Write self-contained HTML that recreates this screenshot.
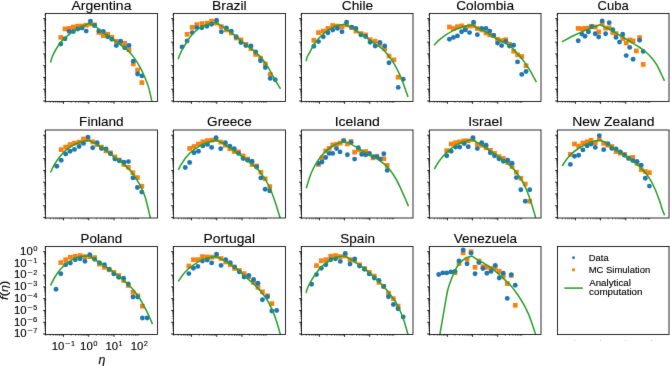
<!DOCTYPE html>
<html><head><meta charset="utf-8"><style>
html,body{margin:0;padding:0;background:#fff;width:670px;height:366px;overflow:hidden}
svg{display:block} text{stroke:#000;stroke-width:0.12px} text.t{stroke-width:0.1px}
</style></head><body>
<svg width="670" height="366" viewBox="0 0 670 366">
<filter id="bl" filterUnits="userSpaceOnUse" x="0" y="0" width="670" height="366" color-interpolation-filters="sRGB"><feConvolveMatrix order="3" kernelMatrix="0.00524 0.06192 0.00524 0.06192 0.73137 0.06192 0.00524 0.06192 0.00524" edgeMode="duplicate" preserveAlpha="false"/></filter>
<rect width="670" height="366" fill="#fff"/>
<g filter="url(#bl)">
<rect width="670" height="366" fill="#fff"/>
<defs>
<clipPath id="c00"><rect x="45.50" y="13.50" width="112.0" height="88.0"/></clipPath>
<clipPath id="c10"><rect x="173.50" y="13.50" width="112.0" height="88.0"/></clipPath>
<clipPath id="c20"><rect x="301.50" y="13.50" width="111.5" height="88.0"/></clipPath>
<clipPath id="c30"><rect x="429.50" y="13.50" width="111.5" height="88.0"/></clipPath>
<clipPath id="c40"><rect x="557.50" y="13.50" width="111.5" height="88.0"/></clipPath>
<clipPath id="c01"><rect x="45.50" y="130.00" width="112.0" height="88.0"/></clipPath>
<clipPath id="c11"><rect x="173.50" y="130.00" width="112.0" height="88.0"/></clipPath>
<clipPath id="c21"><rect x="301.50" y="130.00" width="111.5" height="88.0"/></clipPath>
<clipPath id="c31"><rect x="429.50" y="130.00" width="111.5" height="88.0"/></clipPath>
<clipPath id="c41"><rect x="557.50" y="130.00" width="111.5" height="88.0"/></clipPath>
<clipPath id="c02"><rect x="45.50" y="246.50" width="112.0" height="88.0"/></clipPath>
<clipPath id="c12"><rect x="173.50" y="246.50" width="112.0" height="88.0"/></clipPath>
<clipPath id="c22"><rect x="301.50" y="246.50" width="111.5" height="88.0"/></clipPath>
<clipPath id="c32"><rect x="429.50" y="246.50" width="111.5" height="88.0"/></clipPath>
<clipPath id="c42"><rect x="557.50" y="246.50" width="111.5" height="88.0"/></clipPath>
</defs>
<g clip-path="url(#c00)"><rect x="58.45" y="35.05" width="4.7" height="4.7" fill="#ff7f0e"/><rect x="62.65" y="26.55" width="4.7" height="4.7" fill="#ff7f0e"/><rect x="66.75" y="26.05" width="4.7" height="4.7" fill="#ff7f0e"/><rect x="71.05" y="24.65" width="4.7" height="4.7" fill="#ff7f0e"/><rect x="75.45" y="23.75" width="4.7" height="4.7" fill="#ff7f0e"/><rect x="79.65" y="23.65" width="4.7" height="4.7" fill="#ff7f0e"/><rect x="83.85" y="22.85" width="4.7" height="4.7" fill="#ff7f0e"/><rect x="88.05" y="21.65" width="4.7" height="4.7" fill="#ff7f0e"/><rect x="92.25" y="22.55" width="4.7" height="4.7" fill="#ff7f0e"/><rect x="96.55" y="30.15" width="4.7" height="4.7" fill="#ff7f0e"/><rect x="100.95" y="33.25" width="4.7" height="4.7" fill="#ff7f0e"/><rect x="105.35" y="31.85" width="4.7" height="4.7" fill="#ff7f0e"/><rect x="109.55" y="35.05" width="4.7" height="4.7" fill="#ff7f0e"/><rect x="113.95" y="38.95" width="4.7" height="4.7" fill="#ff7f0e"/><rect x="118.25" y="40.15" width="4.7" height="4.7" fill="#ff7f0e"/><rect x="122.35" y="40.95" width="4.7" height="4.7" fill="#ff7f0e"/><rect x="126.65" y="47.35" width="4.7" height="4.7" fill="#ff7f0e"/><rect x="130.95" y="61.65" width="4.7" height="4.7" fill="#ff7f0e"/><rect x="135.25" y="67.65" width="4.7" height="4.7" fill="#ff7f0e"/><rect x="139.55" y="80.25" width="4.7" height="4.7" fill="#ff7f0e"/><circle cx="60.80" cy="43.95" r="2.45" fill="#1f77b4"/><circle cx="65.00" cy="38.70" r="2.45" fill="#1f77b4"/><circle cx="69.10" cy="31.40" r="2.45" fill="#1f77b4"/><circle cx="73.40" cy="31.50" r="2.45" fill="#1f77b4"/><circle cx="77.80" cy="29.00" r="2.45" fill="#1f77b4"/><circle cx="82.00" cy="28.00" r="2.45" fill="#1f77b4"/><circle cx="86.20" cy="31.10" r="2.45" fill="#1f77b4"/><circle cx="90.40" cy="21.10" r="2.45" fill="#1f77b4"/><circle cx="94.60" cy="25.50" r="2.45" fill="#1f77b4"/><circle cx="98.90" cy="30.90" r="2.45" fill="#1f77b4"/><circle cx="103.30" cy="31.50" r="2.45" fill="#1f77b4"/><circle cx="107.70" cy="36.80" r="2.45" fill="#1f77b4"/><circle cx="111.90" cy="39.30" r="2.45" fill="#1f77b4"/><circle cx="116.30" cy="45.60" r="2.45" fill="#1f77b4"/><circle cx="120.60" cy="41.20" r="2.45" fill="#1f77b4"/><circle cx="124.70" cy="47.70" r="2.45" fill="#1f77b4"/><circle cx="129.00" cy="45.40" r="2.45" fill="#1f77b4"/><circle cx="133.30" cy="61.20" r="2.45" fill="#1f77b4"/><circle cx="137.60" cy="74.00" r="2.45" fill="#1f77b4"/><circle cx="141.90" cy="75.90" r="2.45" fill="#1f77b4"/><path d="M50.50 62.50C50.82 61.47 51.55 58.38 52.40 56.30C53.25 54.22 54.23 52.30 55.60 50.00C56.97 47.70 59.03 44.50 60.60 42.50C62.17 40.50 63.53 39.37 65.00 38.00C66.47 36.63 67.62 35.65 69.40 34.30C71.18 32.95 73.60 31.17 75.70 29.90C77.80 28.63 79.90 27.75 82.00 26.70C84.10 25.65 87.17 24.20 88.30 23.60C89.43 23.00 88.72 23.18 88.80 23.10M88.80 23.10C89.77 23.55 92.90 24.75 94.60 25.80C96.30 26.85 96.72 27.63 99.00 29.40C101.28 31.17 105.20 34.18 108.30 36.40C111.40 38.62 114.50 40.48 117.60 42.70C120.70 44.92 124.18 47.25 126.90 49.70C129.62 52.15 131.77 54.57 133.90 57.40C136.03 60.23 137.97 63.60 139.70 66.70C141.43 69.80 142.87 72.72 144.30 76.00C145.73 79.28 147.02 82.13 148.30 86.40C149.58 90.67 151.30 98.75 152.00 101.60C152.70 104.45 152.42 103.18 152.50 103.50" fill="none" stroke="#2ca02c" stroke-width="1.55" stroke-linejoin="round"/></g>
<rect x="45.50" y="13.50" width="112.0" height="88.0" fill="none" stroke="#000" stroke-width="0.83"/>
<path d="M43.10 100.91H45.50M43.10 89.15H45.50M43.10 77.40H45.50M43.10 65.64H45.50M43.10 53.88H45.50M43.10 42.12H45.50M43.10 30.36H45.50M63.46 101.50V103.90M43.10 18.60H45.50M88.76 101.50V103.90M114.06 101.50V103.90" stroke="#000" stroke-width="0.83" fill="none"/>
<path d="M44.20 101.45H45.50M44.20 97.37H45.50M44.20 95.30H45.50M44.20 93.83H45.50M44.20 92.69H45.50M44.20 91.76H45.50M44.20 90.98H45.50M44.20 90.29H45.50M44.20 89.69H45.50M44.20 85.61H45.50M44.20 83.54H45.50M44.20 82.07H45.50M44.20 80.93H45.50M44.20 80.00H45.50M44.20 79.22H45.50M44.20 78.53H45.50M44.20 77.93H45.50M44.20 73.86H45.50M44.20 71.79H45.50M44.20 70.32H45.50M44.20 69.18H45.50M44.20 68.25H45.50M44.20 67.46H45.50M44.20 66.78H45.50M44.20 66.17H45.50M44.20 62.10H45.50M44.20 60.03H45.50M44.20 58.56H45.50M44.20 57.42H45.50M44.20 56.49H45.50M44.20 55.70H45.50M44.20 55.02H45.50M44.20 54.42H45.50M44.20 50.34H45.50M44.20 48.27H45.50M44.20 46.80H45.50M44.20 45.66H45.50M44.20 44.73H45.50M44.20 43.94H45.50M44.20 43.26H45.50M44.20 42.66H45.50M44.20 38.58H45.50M45.78 101.50V102.80M44.20 36.51H45.50M50.23 101.50V102.80M44.20 35.04H45.50M53.39 101.50V102.80M44.20 33.90H45.50M55.85 101.50V102.80M44.20 32.97H45.50M57.85 101.50V102.80M44.20 32.18H45.50M59.54 101.50V102.80M44.20 31.50H45.50M61.01 101.50V102.80M44.20 30.90H45.50M62.30 101.50V102.80M44.20 26.82H45.50M71.08 101.50V102.80M44.20 24.75H45.50M75.53 101.50V102.80M44.20 23.28H45.50M78.69 101.50V102.80M44.20 22.14H45.50M81.15 101.50V102.80M44.20 21.21H45.50M83.15 101.50V102.80M44.20 20.42H45.50M84.84 101.50V102.80M44.20 19.74H45.50M86.31 101.50V102.80M44.20 19.14H45.50M87.60 101.50V102.80M44.20 15.06H45.50M96.38 101.50V102.80M100.83 101.50V102.80M103.99 101.50V102.80M106.45 101.50V102.80M108.45 101.50V102.80M110.14 101.50V102.80M111.61 101.50V102.80M112.90 101.50V102.80M121.68 101.50V102.80M126.13 101.50V102.80M129.29 101.50V102.80M131.74 101.50V102.80M133.75 101.50V102.80M135.44 101.50V102.80M136.91 101.50V102.80M138.20 101.50V102.80" stroke="#000" stroke-width="0.55" fill="none"/>
<text class="t" x="71.46" y="9.80" font-size="13.2" textLength="60.01" lengthAdjust="spacingAndGlyphs" font-family="Liberation Sans"  fill="#000">Argentina</text>
<g clip-path="url(#c10)"><rect x="184.75" y="31.95" width="4.7" height="4.7" fill="#ff7f0e"/><rect x="189.80" y="25.05" width="4.7" height="4.7" fill="#ff7f0e"/><rect x="194.40" y="22.25" width="4.7" height="4.7" fill="#ff7f0e"/><rect x="199.50" y="21.25" width="4.7" height="4.7" fill="#ff7f0e"/><rect x="204.50" y="20.85" width="4.7" height="4.7" fill="#ff7f0e"/><rect x="209.20" y="18.75" width="4.7" height="4.7" fill="#ff7f0e"/><rect x="214.20" y="20.85" width="4.7" height="4.7" fill="#ff7f0e"/><rect x="219.00" y="24.35" width="4.7" height="4.7" fill="#ff7f0e"/><rect x="224.00" y="27.55" width="4.7" height="4.7" fill="#ff7f0e"/><rect x="228.90" y="30.65" width="4.7" height="4.7" fill="#ff7f0e"/><rect x="233.80" y="35.65" width="4.7" height="4.7" fill="#ff7f0e"/><rect x="238.60" y="37.55" width="4.7" height="4.7" fill="#ff7f0e"/><rect x="243.60" y="41.95" width="4.7" height="4.7" fill="#ff7f0e"/><rect x="248.60" y="46.35" width="4.7" height="4.7" fill="#ff7f0e"/><rect x="253.30" y="52.05" width="4.7" height="4.7" fill="#ff7f0e"/><rect x="258.20" y="55.75" width="4.7" height="4.7" fill="#ff7f0e"/><rect x="263.00" y="61.65" width="4.7" height="4.7" fill="#ff7f0e"/><rect x="267.90" y="72.05" width="4.7" height="4.7" fill="#ff7f0e"/><circle cx="182.05" cy="46.90" r="2.45" fill="#1f77b4"/><circle cx="187.10" cy="40.90" r="2.45" fill="#1f77b4"/><circle cx="192.15" cy="32.60" r="2.45" fill="#1f77b4"/><circle cx="196.75" cy="27.60" r="2.45" fill="#1f77b4"/><circle cx="201.85" cy="27.70" r="2.45" fill="#1f77b4"/><circle cx="206.85" cy="26.35" r="2.45" fill="#1f77b4"/><circle cx="211.55" cy="24.20" r="2.45" fill="#1f77b4"/><circle cx="216.55" cy="20.20" r="2.45" fill="#1f77b4"/><circle cx="221.35" cy="31.80" r="2.45" fill="#1f77b4"/><circle cx="226.35" cy="28.00" r="2.45" fill="#1f77b4"/><circle cx="231.25" cy="31.10" r="2.45" fill="#1f77b4"/><circle cx="236.15" cy="36.80" r="2.45" fill="#1f77b4"/><circle cx="240.95" cy="42.45" r="2.45" fill="#1f77b4"/><circle cx="245.95" cy="45.60" r="2.45" fill="#1f77b4"/><circle cx="250.95" cy="45.85" r="2.45" fill="#1f77b4"/><circle cx="255.65" cy="51.90" r="2.45" fill="#1f77b4"/><circle cx="260.55" cy="60.70" r="2.45" fill="#1f77b4"/><circle cx="265.35" cy="67.50" r="2.45" fill="#1f77b4"/><circle cx="270.25" cy="78.40" r="2.45" fill="#1f77b4"/><circle cx="275.25" cy="79.80" r="2.45" fill="#1f77b4"/><path d="M178.25 59.30C178.40 58.80 178.47 57.95 179.15 56.30C179.83 54.65 180.98 51.92 182.35 49.40C183.72 46.88 185.68 43.72 187.35 41.20C189.02 38.68 190.47 36.40 192.35 34.30C194.23 32.20 196.33 30.18 198.65 28.60C200.97 27.02 203.73 25.74 206.25 24.80C208.77 23.86 212.07 23.32 213.75 22.95C215.43 22.58 215.92 22.66 216.35 22.60M216.35 22.60C217.18 23.14 219.57 24.70 221.35 25.85C223.12 27.00 224.51 27.74 227.00 29.50C229.49 31.26 233.20 33.88 236.30 36.40C239.40 38.92 242.50 42.07 245.60 44.60C248.70 47.13 252.18 49.28 254.90 51.60C257.62 53.92 259.77 55.98 261.90 58.50C264.03 61.02 265.77 63.60 267.70 66.70C269.63 69.80 271.95 74.38 273.50 77.10C275.05 79.82 275.83 81.05 277.00 83.00C278.17 84.95 279.92 87.83 280.50 88.80" fill="none" stroke="#2ca02c" stroke-width="1.55" stroke-linejoin="round"/></g>
<rect x="173.50" y="13.50" width="112.0" height="88.0" fill="none" stroke="#000" stroke-width="0.83"/>
<path d="M171.10 100.91H173.50M171.10 89.15H173.50M171.10 77.40H173.50M171.10 65.64H173.50M171.10 53.88H173.50M171.10 42.12H173.50M171.10 30.36H173.50M191.46 101.50V103.90M171.10 18.60H173.50M216.76 101.50V103.90M242.06 101.50V103.90" stroke="#000" stroke-width="0.83" fill="none"/>
<path d="M172.20 101.45H173.50M172.20 97.37H173.50M172.20 95.30H173.50M172.20 93.83H173.50M172.20 92.69H173.50M172.20 91.76H173.50M172.20 90.98H173.50M172.20 90.29H173.50M172.20 89.69H173.50M172.20 85.61H173.50M172.20 83.54H173.50M172.20 82.07H173.50M172.20 80.93H173.50M172.20 80.00H173.50M172.20 79.22H173.50M172.20 78.53H173.50M172.20 77.93H173.50M172.20 73.86H173.50M172.20 71.79H173.50M172.20 70.32H173.50M172.20 69.18H173.50M172.20 68.25H173.50M172.20 67.46H173.50M172.20 66.78H173.50M172.20 66.17H173.50M172.20 62.10H173.50M172.20 60.03H173.50M172.20 58.56H173.50M172.20 57.42H173.50M172.20 56.49H173.50M172.20 55.70H173.50M172.20 55.02H173.50M172.20 54.42H173.50M172.20 50.34H173.50M172.20 48.27H173.50M172.20 46.80H173.50M172.20 45.66H173.50M172.20 44.73H173.50M172.20 43.94H173.50M172.20 43.26H173.50M172.20 42.66H173.50M172.20 38.58H173.50M173.78 101.50V102.80M172.20 36.51H173.50M178.23 101.50V102.80M172.20 35.04H173.50M181.39 101.50V102.80M172.20 33.90H173.50M183.85 101.50V102.80M172.20 32.97H173.50M185.85 101.50V102.80M172.20 32.18H173.50M187.54 101.50V102.80M172.20 31.50H173.50M189.01 101.50V102.80M172.20 30.90H173.50M190.30 101.50V102.80M172.20 26.82H173.50M199.08 101.50V102.80M172.20 24.75H173.50M203.53 101.50V102.80M172.20 23.28H173.50M206.69 101.50V102.80M172.20 22.14H173.50M209.15 101.50V102.80M172.20 21.21H173.50M211.15 101.50V102.80M172.20 20.42H173.50M212.84 101.50V102.80M172.20 19.74H173.50M214.31 101.50V102.80M172.20 19.14H173.50M215.60 101.50V102.80M172.20 15.06H173.50M224.38 101.50V102.80M228.83 101.50V102.80M231.99 101.50V102.80M234.45 101.50V102.80M236.45 101.50V102.80M238.14 101.50V102.80M239.61 101.50V102.80M240.90 101.50V102.80M249.68 101.50V102.80M254.13 101.50V102.80M257.29 101.50V102.80M259.74 101.50V102.80M261.75 101.50V102.80M263.44 101.50V102.80M264.91 101.50V102.80M266.20 101.50V102.80" stroke="#000" stroke-width="0.55" fill="none"/>
<text class="t" x="212.03" y="9.80" font-size="13.2" textLength="34.68" lengthAdjust="spacingAndGlyphs" font-family="Liberation Sans"  fill="#000">Brazil</text>
<g clip-path="url(#c20)"><rect x="311.50" y="37.95" width="4.7" height="4.7" fill="#ff7f0e"/><rect x="316.15" y="30.25" width="4.7" height="4.7" fill="#ff7f0e"/><rect x="320.95" y="28.75" width="4.7" height="4.7" fill="#ff7f0e"/><rect x="325.55" y="26.05" width="4.7" height="4.7" fill="#ff7f0e"/><rect x="330.35" y="23.15" width="4.7" height="4.7" fill="#ff7f0e"/><rect x="335.05" y="23.75" width="4.7" height="4.7" fill="#ff7f0e"/><rect x="339.65" y="24.35" width="4.7" height="4.7" fill="#ff7f0e"/><rect x="344.25" y="22.45" width="4.7" height="4.7" fill="#ff7f0e"/><rect x="349.25" y="25.25" width="4.7" height="4.7" fill="#ff7f0e"/><rect x="353.55" y="28.75" width="4.7" height="4.7" fill="#ff7f0e"/><rect x="358.65" y="31.25" width="4.7" height="4.7" fill="#ff7f0e"/><rect x="363.25" y="32.55" width="4.7" height="4.7" fill="#ff7f0e"/><rect x="367.85" y="37.35" width="4.7" height="4.7" fill="#ff7f0e"/><rect x="372.85" y="38.85" width="4.7" height="4.7" fill="#ff7f0e"/><rect x="377.55" y="41.95" width="4.7" height="4.7" fill="#ff7f0e"/><rect x="382.35" y="46.40" width="4.7" height="4.7" fill="#ff7f0e"/><rect x="386.65" y="53.75" width="4.7" height="4.7" fill="#ff7f0e"/><rect x="391.55" y="57.50" width="4.7" height="4.7" fill="#ff7f0e"/><rect x="395.85" y="74.85" width="4.7" height="4.7" fill="#ff7f0e"/><circle cx="313.85" cy="46.20" r="2.45" fill="#1f77b4"/><circle cx="318.50" cy="41.60" r="2.45" fill="#1f77b4"/><circle cx="323.30" cy="36.80" r="2.45" fill="#1f77b4"/><circle cx="327.90" cy="32.80" r="2.45" fill="#1f77b4"/><circle cx="332.70" cy="30.10" r="2.45" fill="#1f77b4"/><circle cx="337.40" cy="28.40" r="2.45" fill="#1f77b4"/><circle cx="342.00" cy="31.80" r="2.45" fill="#1f77b4"/><circle cx="346.60" cy="22.10" r="2.45" fill="#1f77b4"/><circle cx="351.60" cy="27.10" r="2.45" fill="#1f77b4"/><circle cx="355.90" cy="28.40" r="2.45" fill="#1f77b4"/><circle cx="361.00" cy="34.90" r="2.45" fill="#1f77b4"/><circle cx="365.60" cy="36.50" r="2.45" fill="#1f77b4"/><circle cx="370.20" cy="42.20" r="2.45" fill="#1f77b4"/><circle cx="375.20" cy="46.00" r="2.45" fill="#1f77b4"/><circle cx="379.90" cy="42.50" r="2.45" fill="#1f77b4"/><circle cx="384.70" cy="46.00" r="2.45" fill="#1f77b4"/><circle cx="389.00" cy="62.80" r="2.45" fill="#1f77b4"/><circle cx="398.20" cy="87.40" r="2.45" fill="#1f77b4"/><circle cx="403.20" cy="79.20" r="2.45" fill="#1f77b4"/><path d="M306.27 61.10C306.42 60.42 306.53 58.63 307.20 57.00C307.87 55.37 309.15 53.42 310.30 51.30C311.45 49.18 312.63 46.51 314.10 44.30C315.57 42.09 317.42 39.93 319.10 38.05C320.78 36.17 322.31 34.58 324.20 33.00C326.09 31.43 328.37 29.79 330.45 28.60C332.53 27.41 334.36 26.60 336.70 25.85C339.04 25.10 343.20 24.39 344.50 24.10M344.50 24.10C345.52 24.65 348.85 26.45 350.60 27.40C352.35 28.35 352.72 28.35 355.00 29.80C357.28 31.25 361.20 33.95 364.30 36.10C367.40 38.25 370.50 40.48 373.60 42.70C376.70 44.92 380.18 46.95 382.90 49.40C385.62 51.85 387.77 54.52 389.90 57.40C392.03 60.28 393.97 63.60 395.70 66.70C397.43 69.80 398.87 72.72 400.30 76.00C401.73 79.28 403.02 82.92 404.30 86.40C405.58 89.88 407.38 95.15 408.00 96.90" fill="none" stroke="#2ca02c" stroke-width="1.55" stroke-linejoin="round"/></g>
<rect x="301.50" y="13.50" width="111.5" height="88.0" fill="none" stroke="#000" stroke-width="0.83"/>
<path d="M299.10 100.91H301.50M299.10 89.15H301.50M299.10 77.40H301.50M299.10 65.64H301.50M299.10 53.88H301.50M299.10 42.12H301.50M299.10 30.36H301.50M319.38 101.50V103.90M299.10 18.60H301.50M344.57 101.50V103.90M369.76 101.50V103.90" stroke="#000" stroke-width="0.83" fill="none"/>
<path d="M300.20 101.45H301.50M300.20 97.37H301.50M300.20 95.30H301.50M300.20 93.83H301.50M300.20 92.69H301.50M300.20 91.76H301.50M300.20 90.98H301.50M300.20 90.29H301.50M300.20 89.69H301.50M300.20 85.61H301.50M300.20 83.54H301.50M300.20 82.07H301.50M300.20 80.93H301.50M300.20 80.00H301.50M300.20 79.22H301.50M300.20 78.53H301.50M300.20 77.93H301.50M300.20 73.86H301.50M300.20 71.79H301.50M300.20 70.32H301.50M300.20 69.18H301.50M300.20 68.25H301.50M300.20 67.46H301.50M300.20 66.78H301.50M300.20 66.17H301.50M300.20 62.10H301.50M300.20 60.03H301.50M300.20 58.56H301.50M300.20 57.42H301.50M300.20 56.49H301.50M300.20 55.70H301.50M300.20 55.02H301.50M300.20 54.42H301.50M300.20 50.34H301.50M300.20 48.27H301.50M300.20 46.80H301.50M300.20 45.66H301.50M300.20 44.73H301.50M300.20 43.94H301.50M300.20 43.26H301.50M300.20 42.66H301.50M300.20 38.58H301.50M301.78 101.50V102.80M300.20 36.51H301.50M306.21 101.50V102.80M300.20 35.04H301.50M309.36 101.50V102.80M300.20 33.90H301.50M311.80 101.50V102.80M300.20 32.97H301.50M313.79 101.50V102.80M300.20 32.18H301.50M315.48 101.50V102.80M300.20 31.50H301.50M316.94 101.50V102.80M300.20 30.90H301.50M318.23 101.50V102.80M300.20 26.82H301.50M326.96 101.50V102.80M300.20 24.75H301.50M331.40 101.50V102.80M300.20 23.28H301.50M334.55 101.50V102.80M300.20 22.14H301.50M336.99 101.50V102.80M300.20 21.21H301.50M338.98 101.50V102.80M300.20 20.42H301.50M340.67 101.50V102.80M300.20 19.74H301.50M342.13 101.50V102.80M300.20 19.14H301.50M343.42 101.50V102.80M300.20 15.06H301.50M352.15 101.50V102.80M356.59 101.50V102.80M359.73 101.50V102.80M362.17 101.50V102.80M364.17 101.50V102.80M365.85 101.50V102.80M367.31 101.50V102.80M368.60 101.50V102.80M377.34 101.50V102.80M381.77 101.50V102.80M384.92 101.50V102.80M387.36 101.50V102.80M389.35 101.50V102.80M391.04 101.50V102.80M392.50 101.50V102.80M393.79 101.50V102.80" stroke="#000" stroke-width="0.55" fill="none"/>
<text class="t" x="341.75" y="9.80" font-size="13.2" textLength="31.36" lengthAdjust="spacingAndGlyphs" font-family="Liberation Sans"  fill="#000">Chile</text>
<g clip-path="url(#c30)"><rect x="447.05" y="24.65" width="4.7" height="4.7" fill="#ff7f0e"/><rect x="451.10" y="26.25" width="4.7" height="4.7" fill="#ff7f0e"/><rect x="455.10" y="24.35" width="4.7" height="4.7" fill="#ff7f0e"/><rect x="459.25" y="23.50" width="4.7" height="4.7" fill="#ff7f0e"/><rect x="463.00" y="25.05" width="4.7" height="4.7" fill="#ff7f0e"/><rect x="467.20" y="23.75" width="4.7" height="4.7" fill="#ff7f0e"/><rect x="471.20" y="23.15" width="4.7" height="4.7" fill="#ff7f0e"/><rect x="475.00" y="26.25" width="4.7" height="4.7" fill="#ff7f0e"/><rect x="479.40" y="27.55" width="4.7" height="4.7" fill="#ff7f0e"/><rect x="483.60" y="30.65" width="4.7" height="4.7" fill="#ff7f0e"/><rect x="487.40" y="32.55" width="4.7" height="4.7" fill="#ff7f0e"/><rect x="491.20" y="33.15" width="4.7" height="4.7" fill="#ff7f0e"/><rect x="495.20" y="36.95" width="4.7" height="4.7" fill="#ff7f0e"/><rect x="499.30" y="38.25" width="4.7" height="4.7" fill="#ff7f0e"/><rect x="503.40" y="37.35" width="4.7" height="4.7" fill="#ff7f0e"/><rect x="507.20" y="41.95" width="4.7" height="4.7" fill="#ff7f0e"/><rect x="511.30" y="48.95" width="4.7" height="4.7" fill="#ff7f0e"/><rect x="515.20" y="52.45" width="4.7" height="4.7" fill="#ff7f0e"/><rect x="519.40" y="54.15" width="4.7" height="4.7" fill="#ff7f0e"/><rect x="523.70" y="63.35" width="4.7" height="4.7" fill="#ff7f0e"/><circle cx="449.40" cy="39.30" r="2.45" fill="#1f77b4"/><circle cx="453.45" cy="37.40" r="2.45" fill="#1f77b4"/><circle cx="457.45" cy="35.90" r="2.45" fill="#1f77b4"/><circle cx="461.60" cy="31.80" r="2.45" fill="#1f77b4"/><circle cx="465.35" cy="29.90" r="2.45" fill="#1f77b4"/><circle cx="469.55" cy="32.60" r="2.45" fill="#1f77b4"/><circle cx="473.55" cy="22.30" r="2.45" fill="#1f77b4"/><circle cx="477.35" cy="34.65" r="2.45" fill="#1f77b4"/><circle cx="481.75" cy="28.40" r="2.45" fill="#1f77b4"/><circle cx="485.95" cy="28.40" r="2.45" fill="#1f77b4"/><circle cx="489.75" cy="31.10" r="2.45" fill="#1f77b4"/><circle cx="493.55" cy="35.50" r="2.45" fill="#1f77b4"/><circle cx="497.55" cy="43.10" r="2.45" fill="#1f77b4"/><circle cx="501.65" cy="45.60" r="2.45" fill="#1f77b4"/><circle cx="505.75" cy="41.50" r="2.45" fill="#1f77b4"/><circle cx="509.55" cy="46.00" r="2.45" fill="#1f77b4"/><circle cx="513.65" cy="45.20" r="2.45" fill="#1f77b4"/><circle cx="517.55" cy="61.90" r="2.45" fill="#1f77b4"/><circle cx="521.75" cy="74.40" r="2.45" fill="#1f77b4"/><circle cx="526.05" cy="71.50" r="2.45" fill="#1f77b4"/><path d="M433.95 45.20C434.88 44.28 437.57 41.42 439.55 39.70C441.53 37.98 443.75 36.33 445.85 34.90C447.95 33.47 449.83 32.25 452.15 31.10C454.47 29.95 457.23 28.88 459.75 28.00C462.27 27.12 465.15 26.40 467.25 25.85C469.35 25.30 471.50 24.89 472.35 24.70M472.35 24.70C473.18 25.25 475.24 26.87 477.35 28.00C479.46 29.13 482.68 30.25 485.00 31.50C487.32 32.75 489.16 34.20 491.25 35.50C493.34 36.80 495.45 38.14 497.55 39.30C499.65 40.46 501.75 41.30 503.85 42.45C505.95 43.60 507.97 44.46 510.15 46.20C512.32 47.94 514.69 50.49 516.90 52.90C519.11 55.31 521.23 57.75 523.40 60.65C525.57 63.55 527.73 66.71 529.90 70.30C532.07 73.89 535.32 80.22 536.40 82.20" fill="none" stroke="#2ca02c" stroke-width="1.55" stroke-linejoin="round"/></g>
<rect x="429.50" y="13.50" width="111.5" height="88.0" fill="none" stroke="#000" stroke-width="0.83"/>
<path d="M427.10 100.91H429.50M427.10 89.15H429.50M427.10 77.40H429.50M427.10 65.64H429.50M427.10 53.88H429.50M427.10 42.12H429.50M427.10 30.36H429.50M447.38 101.50V103.90M427.10 18.60H429.50M472.57 101.50V103.90M497.76 101.50V103.90" stroke="#000" stroke-width="0.83" fill="none"/>
<path d="M428.20 101.45H429.50M428.20 97.37H429.50M428.20 95.30H429.50M428.20 93.83H429.50M428.20 92.69H429.50M428.20 91.76H429.50M428.20 90.98H429.50M428.20 90.29H429.50M428.20 89.69H429.50M428.20 85.61H429.50M428.20 83.54H429.50M428.20 82.07H429.50M428.20 80.93H429.50M428.20 80.00H429.50M428.20 79.22H429.50M428.20 78.53H429.50M428.20 77.93H429.50M428.20 73.86H429.50M428.20 71.79H429.50M428.20 70.32H429.50M428.20 69.18H429.50M428.20 68.25H429.50M428.20 67.46H429.50M428.20 66.78H429.50M428.20 66.17H429.50M428.20 62.10H429.50M428.20 60.03H429.50M428.20 58.56H429.50M428.20 57.42H429.50M428.20 56.49H429.50M428.20 55.70H429.50M428.20 55.02H429.50M428.20 54.42H429.50M428.20 50.34H429.50M428.20 48.27H429.50M428.20 46.80H429.50M428.20 45.66H429.50M428.20 44.73H429.50M428.20 43.94H429.50M428.20 43.26H429.50M428.20 42.66H429.50M428.20 38.58H429.50M429.78 101.50V102.80M428.20 36.51H429.50M434.21 101.50V102.80M428.20 35.04H429.50M437.36 101.50V102.80M428.20 33.90H429.50M439.80 101.50V102.80M428.20 32.97H429.50M441.79 101.50V102.80M428.20 32.18H429.50M443.48 101.50V102.80M428.20 31.50H429.50M444.94 101.50V102.80M428.20 30.90H429.50M446.23 101.50V102.80M428.20 26.82H429.50M454.96 101.50V102.80M428.20 24.75H429.50M459.40 101.50V102.80M428.20 23.28H429.50M462.55 101.50V102.80M428.20 22.14H429.50M464.99 101.50V102.80M428.20 21.21H429.50M466.98 101.50V102.80M428.20 20.42H429.50M468.67 101.50V102.80M428.20 19.74H429.50M470.13 101.50V102.80M428.20 19.14H429.50M471.42 101.50V102.80M428.20 15.06H429.50M480.15 101.50V102.80M484.59 101.50V102.80M487.73 101.50V102.80M490.17 101.50V102.80M492.17 101.50V102.80M493.85 101.50V102.80M495.31 101.50V102.80M496.60 101.50V102.80M505.34 101.50V102.80M509.77 101.50V102.80M512.92 101.50V102.80M515.36 101.50V102.80M517.35 101.50V102.80M519.04 101.50V102.80M520.50 101.50V102.80M521.79 101.50V102.80" stroke="#000" stroke-width="0.55" fill="none"/>
<text class="t" x="456.22" y="9.80" font-size="13.2" textLength="57.82" lengthAdjust="spacingAndGlyphs" font-family="Liberation Sans"  fill="#000">Colombia</text>
<g clip-path="url(#c40)"><rect x="575.85" y="26.05" width="4.7" height="4.7" fill="#ff7f0e"/><rect x="579.45" y="26.35" width="4.7" height="4.7" fill="#ff7f0e"/><rect x="582.65" y="26.05" width="4.7" height="4.7" fill="#ff7f0e"/><rect x="586.05" y="25.75" width="4.7" height="4.7" fill="#ff7f0e"/><rect x="589.35" y="23.95" width="4.7" height="4.7" fill="#ff7f0e"/><rect x="592.85" y="24.65" width="4.7" height="4.7" fill="#ff7f0e"/><rect x="596.35" y="29.55" width="4.7" height="4.7" fill="#ff7f0e"/><rect x="599.85" y="21.25" width="4.7" height="4.7" fill="#ff7f0e"/><rect x="603.25" y="25.75" width="4.7" height="4.7" fill="#ff7f0e"/><rect x="606.85" y="25.55" width="4.7" height="4.7" fill="#ff7f0e"/><rect x="610.45" y="30.15" width="4.7" height="4.7" fill="#ff7f0e"/><rect x="613.65" y="31.25" width="4.7" height="4.7" fill="#ff7f0e"/><rect x="620.35" y="36.25" width="4.7" height="4.7" fill="#ff7f0e"/><rect x="623.85" y="40.65" width="4.7" height="4.7" fill="#ff7f0e"/><rect x="627.35" y="37.55" width="4.7" height="4.7" fill="#ff7f0e"/><rect x="630.75" y="38.55" width="4.7" height="4.7" fill="#ff7f0e"/><rect x="633.95" y="48.55" width="4.7" height="4.7" fill="#ff7f0e"/><rect x="637.25" y="35.25" width="4.7" height="4.7" fill="#ff7f0e"/><rect x="640.85" y="62.05" width="4.7" height="4.7" fill="#ff7f0e"/><circle cx="578.20" cy="40.80" r="2.45" fill="#1f77b4"/><circle cx="581.80" cy="34.10" r="2.45" fill="#1f77b4"/><circle cx="585.00" cy="36.30" r="2.45" fill="#1f77b4"/><circle cx="588.40" cy="31.90" r="2.45" fill="#1f77b4"/><circle cx="591.70" cy="26.70" r="2.45" fill="#1f77b4"/><circle cx="595.20" cy="33.80" r="2.45" fill="#1f77b4"/><circle cx="598.70" cy="37.00" r="2.45" fill="#1f77b4"/><circle cx="602.20" cy="20.90" r="2.45" fill="#1f77b4"/><circle cx="605.60" cy="33.80" r="2.45" fill="#1f77b4"/><circle cx="609.20" cy="22.80" r="2.45" fill="#1f77b4"/><circle cx="612.80" cy="29.70" r="2.45" fill="#1f77b4"/><circle cx="616.00" cy="37.40" r="2.45" fill="#1f77b4"/><circle cx="619.50" cy="42.10" r="2.45" fill="#1f77b4"/><circle cx="622.70" cy="34.20" r="2.45" fill="#1f77b4"/><circle cx="626.20" cy="55.60" r="2.45" fill="#1f77b4"/><circle cx="629.70" cy="47.40" r="2.45" fill="#1f77b4"/><circle cx="633.10" cy="59.30" r="2.45" fill="#1f77b4"/><circle cx="639.60" cy="40.30" r="2.45" fill="#1f77b4"/><circle cx="643.20" cy="51.40" r="2.45" fill="#1f77b4"/><path d="M561.90 41.80C563.90 40.75 569.82 37.48 573.90 35.50C577.98 33.52 582.02 31.68 586.40 29.90C590.78 28.12 597.90 25.65 600.20 24.80M600.20 24.80C601.05 25.23 603.67 26.61 605.30 27.40C606.93 28.19 607.62 28.23 610.00 29.55C612.38 30.87 616.37 33.39 619.55 35.30C622.73 37.21 625.91 39.09 629.10 41.00C632.29 42.91 635.79 44.83 638.66 46.75C641.53 48.67 644.08 50.59 646.30 52.50C648.52 54.41 650.25 56.13 652.00 58.20C653.75 60.27 655.37 62.51 656.80 64.90C658.23 67.29 659.32 69.90 660.60 72.55C661.88 75.20 663.85 79.42 664.50 80.80" fill="none" stroke="#2ca02c" stroke-width="1.55" stroke-linejoin="round"/></g>
<rect x="557.50" y="13.50" width="111.5" height="88.0" fill="none" stroke="#000" stroke-width="0.83"/>
<path d="M555.10 100.91H557.50M555.10 89.15H557.50M555.10 77.40H557.50M555.10 65.64H557.50M555.10 53.88H557.50M555.10 42.12H557.50M555.10 30.36H557.50M575.38 101.50V103.90M555.10 18.60H557.50M600.57 101.50V103.90M625.76 101.50V103.90" stroke="#000" stroke-width="0.83" fill="none"/>
<path d="M556.20 101.45H557.50M556.20 97.37H557.50M556.20 95.30H557.50M556.20 93.83H557.50M556.20 92.69H557.50M556.20 91.76H557.50M556.20 90.98H557.50M556.20 90.29H557.50M556.20 89.69H557.50M556.20 85.61H557.50M556.20 83.54H557.50M556.20 82.07H557.50M556.20 80.93H557.50M556.20 80.00H557.50M556.20 79.22H557.50M556.20 78.53H557.50M556.20 77.93H557.50M556.20 73.86H557.50M556.20 71.79H557.50M556.20 70.32H557.50M556.20 69.18H557.50M556.20 68.25H557.50M556.20 67.46H557.50M556.20 66.78H557.50M556.20 66.17H557.50M556.20 62.10H557.50M556.20 60.03H557.50M556.20 58.56H557.50M556.20 57.42H557.50M556.20 56.49H557.50M556.20 55.70H557.50M556.20 55.02H557.50M556.20 54.42H557.50M556.20 50.34H557.50M556.20 48.27H557.50M556.20 46.80H557.50M556.20 45.66H557.50M556.20 44.73H557.50M556.20 43.94H557.50M556.20 43.26H557.50M556.20 42.66H557.50M556.20 38.58H557.50M557.78 101.50V102.80M556.20 36.51H557.50M562.21 101.50V102.80M556.20 35.04H557.50M565.36 101.50V102.80M556.20 33.90H557.50M567.80 101.50V102.80M556.20 32.97H557.50M569.79 101.50V102.80M556.20 32.18H557.50M571.48 101.50V102.80M556.20 31.50H557.50M572.94 101.50V102.80M556.20 30.90H557.50M574.23 101.50V102.80M556.20 26.82H557.50M582.96 101.50V102.80M556.20 24.75H557.50M587.40 101.50V102.80M556.20 23.28H557.50M590.55 101.50V102.80M556.20 22.14H557.50M592.99 101.50V102.80M556.20 21.21H557.50M594.98 101.50V102.80M556.20 20.42H557.50M596.67 101.50V102.80M556.20 19.74H557.50M598.13 101.50V102.80M556.20 19.14H557.50M599.42 101.50V102.80M556.20 15.06H557.50M608.15 101.50V102.80M612.59 101.50V102.80M615.73 101.50V102.80M618.17 101.50V102.80M620.17 101.50V102.80M621.85 101.50V102.80M623.31 101.50V102.80M624.60 101.50V102.80M633.34 101.50V102.80M637.77 101.50V102.80M640.92 101.50V102.80M643.36 101.50V102.80M645.35 101.50V102.80M647.04 101.50V102.80M648.50 101.50V102.80M649.79 101.50V102.80" stroke="#000" stroke-width="0.55" fill="none"/>
<text class="t" x="597.55" y="9.80" font-size="13.2" textLength="31.20" lengthAdjust="spacingAndGlyphs" font-family="Liberation Sans"  fill="#000">Cuba</text>
<g clip-path="url(#c01)"><rect x="58.85" y="147.30" width="4.7" height="4.7" fill="#ff7f0e"/><rect x="63.30" y="144.75" width="4.7" height="4.7" fill="#ff7f0e"/><rect x="67.70" y="142.25" width="4.7" height="4.7" fill="#ff7f0e"/><rect x="72.10" y="140.75" width="4.7" height="4.7" fill="#ff7f0e"/><rect x="76.75" y="139.75" width="4.7" height="4.7" fill="#ff7f0e"/><rect x="81.15" y="136.65" width="4.7" height="4.7" fill="#ff7f0e"/><rect x="85.65" y="137.25" width="4.7" height="4.7" fill="#ff7f0e"/><rect x="90.35" y="139.50" width="4.7" height="4.7" fill="#ff7f0e"/><rect x="94.75" y="142.25" width="4.7" height="4.7" fill="#ff7f0e"/><rect x="99.15" y="144.75" width="4.7" height="4.7" fill="#ff7f0e"/><rect x="103.65" y="148.55" width="4.7" height="4.7" fill="#ff7f0e"/><rect x="108.15" y="150.45" width="4.7" height="4.7" fill="#ff7f0e"/><rect x="112.55" y="154.55" width="4.7" height="4.7" fill="#ff7f0e"/><rect x="116.95" y="157.65" width="4.7" height="4.7" fill="#ff7f0e"/><rect x="121.45" y="162.15" width="4.7" height="4.7" fill="#ff7f0e"/><rect x="126.05" y="164.95" width="4.7" height="4.7" fill="#ff7f0e"/><rect x="130.55" y="170.35" width="4.7" height="4.7" fill="#ff7f0e"/><rect x="135.05" y="175.25" width="4.7" height="4.7" fill="#ff7f0e"/><rect x="139.45" y="183.85" width="4.7" height="4.7" fill="#ff7f0e"/><circle cx="56.80" cy="166.30" r="2.45" fill="#1f77b4"/><circle cx="61.20" cy="160.30" r="2.45" fill="#1f77b4"/><circle cx="65.65" cy="154.05" r="2.45" fill="#1f77b4"/><circle cx="70.05" cy="151.30" r="2.45" fill="#1f77b4"/><circle cx="74.45" cy="149.40" r="2.45" fill="#1f77b4"/><circle cx="79.10" cy="146.50" r="2.45" fill="#1f77b4"/><circle cx="83.50" cy="143.40" r="2.45" fill="#1f77b4"/><circle cx="88.00" cy="137.10" r="2.45" fill="#1f77b4"/><circle cx="92.70" cy="147.80" r="2.45" fill="#1f77b4"/><circle cx="97.10" cy="142.70" r="2.45" fill="#1f77b4"/><circle cx="101.50" cy="148.50" r="2.45" fill="#1f77b4"/><circle cx="106.00" cy="149.00" r="2.45" fill="#1f77b4"/><circle cx="110.50" cy="153.70" r="2.45" fill="#1f77b4"/><circle cx="114.90" cy="159.10" r="2.45" fill="#1f77b4"/><circle cx="119.30" cy="160.70" r="2.45" fill="#1f77b4"/><circle cx="123.80" cy="162.20" r="2.45" fill="#1f77b4"/><circle cx="128.40" cy="161.60" r="2.45" fill="#1f77b4"/><circle cx="132.90" cy="177.90" r="2.45" fill="#1f77b4"/><circle cx="137.40" cy="187.45" r="2.45" fill="#1f77b4"/><circle cx="141.80" cy="192.10" r="2.45" fill="#1f77b4"/><path d="M50.50 172.50C51.13 171.20 52.82 167.25 54.30 164.70C55.78 162.15 57.51 159.60 59.40 157.20C61.29 154.80 63.35 152.30 65.65 150.30C67.95 148.30 70.69 146.57 73.20 145.20C75.71 143.83 78.10 142.95 80.70 142.10C83.30 141.25 87.45 140.43 88.80 140.10M88.80 140.10C89.55 140.53 91.27 141.55 93.30 142.70C95.33 143.85 98.67 145.53 101.00 147.00C103.33 148.47 105.20 149.90 107.30 151.50C109.40 153.10 111.50 155.02 113.60 156.60C115.70 158.18 117.80 159.33 119.90 161.00C122.00 162.67 124.27 164.77 126.20 166.60C128.13 168.43 129.21 168.96 131.50 172.00C133.79 175.04 137.67 180.68 139.95 184.85C142.22 189.02 143.43 191.53 145.15 197.00C146.88 202.47 149.39 214.03 150.30 217.70C151.21 221.37 150.55 218.78 150.60 219.00" fill="none" stroke="#2ca02c" stroke-width="1.55" stroke-linejoin="round"/></g>
<rect x="45.50" y="130.00" width="112.0" height="88.0" fill="none" stroke="#000" stroke-width="0.83"/>
<path d="M43.10 217.41H45.50M43.10 205.65H45.50M43.10 193.90H45.50M43.10 182.14H45.50M43.10 170.38H45.50M43.10 158.62H45.50M43.10 146.86H45.50M63.46 218.00V220.40M43.10 135.10H45.50M88.76 218.00V220.40M114.06 218.00V220.40" stroke="#000" stroke-width="0.83" fill="none"/>
<path d="M44.20 217.95H45.50M44.20 213.87H45.50M44.20 211.80H45.50M44.20 210.33H45.50M44.20 209.19H45.50M44.20 208.26H45.50M44.20 207.48H45.50M44.20 206.79H45.50M44.20 206.19H45.50M44.20 202.11H45.50M44.20 200.04H45.50M44.20 198.57H45.50M44.20 197.43H45.50M44.20 196.50H45.50M44.20 195.72H45.50M44.20 195.03H45.50M44.20 194.43H45.50M44.20 190.36H45.50M44.20 188.29H45.50M44.20 186.82H45.50M44.20 185.68H45.50M44.20 184.75H45.50M44.20 183.96H45.50M44.20 183.28H45.50M44.20 182.67H45.50M44.20 178.60H45.50M44.20 176.53H45.50M44.20 175.06H45.50M44.20 173.92H45.50M44.20 172.99H45.50M44.20 172.20H45.50M44.20 171.52H45.50M44.20 170.92H45.50M44.20 166.84H45.50M44.20 164.77H45.50M44.20 163.30H45.50M44.20 162.16H45.50M44.20 161.23H45.50M44.20 160.44H45.50M44.20 159.76H45.50M44.20 159.16H45.50M44.20 155.08H45.50M45.78 218.00V219.30M44.20 153.01H45.50M50.23 218.00V219.30M44.20 151.54H45.50M53.39 218.00V219.30M44.20 150.40H45.50M55.85 218.00V219.30M44.20 149.47H45.50M57.85 218.00V219.30M44.20 148.68H45.50M59.54 218.00V219.30M44.20 148.00H45.50M61.01 218.00V219.30M44.20 147.40H45.50M62.30 218.00V219.30M44.20 143.32H45.50M71.08 218.00V219.30M44.20 141.25H45.50M75.53 218.00V219.30M44.20 139.78H45.50M78.69 218.00V219.30M44.20 138.64H45.50M81.15 218.00V219.30M44.20 137.71H45.50M83.15 218.00V219.30M44.20 136.92H45.50M84.84 218.00V219.30M44.20 136.24H45.50M86.31 218.00V219.30M44.20 135.64H45.50M87.60 218.00V219.30M44.20 131.56H45.50M96.38 218.00V219.30M100.83 218.00V219.30M103.99 218.00V219.30M106.45 218.00V219.30M108.45 218.00V219.30M110.14 218.00V219.30M111.61 218.00V219.30M112.90 218.00V219.30M121.68 218.00V219.30M126.13 218.00V219.30M129.29 218.00V219.30M131.74 218.00V219.30M133.75 218.00V219.30M135.44 218.00V219.30M136.91 218.00V219.30M138.20 218.00V219.30" stroke="#000" stroke-width="0.55" fill="none"/>
<text class="t" x="79.12" y="126.30" font-size="13.2" textLength="44.47" lengthAdjust="spacingAndGlyphs" font-family="Liberation Sans"  fill="#000">Finland</text>
<g clip-path="url(#c11)"><rect x="187.30" y="146.05" width="4.7" height="4.7" fill="#ff7f0e"/><rect x="191.70" y="144.15" width="4.7" height="4.7" fill="#ff7f0e"/><rect x="196.10" y="141.65" width="4.7" height="4.7" fill="#ff7f0e"/><rect x="200.50" y="139.50" width="4.7" height="4.7" fill="#ff7f0e"/><rect x="205.10" y="138.25" width="4.7" height="4.7" fill="#ff7f0e"/><rect x="209.30" y="137.85" width="4.7" height="4.7" fill="#ff7f0e"/><rect x="213.70" y="137.25" width="4.7" height="4.7" fill="#ff7f0e"/><rect x="218.35" y="139.75" width="4.7" height="4.7" fill="#ff7f0e"/><rect x="223.00" y="142.85" width="4.7" height="4.7" fill="#ff7f0e"/><rect x="227.50" y="146.35" width="4.7" height="4.7" fill="#ff7f0e"/><rect x="231.90" y="149.15" width="4.7" height="4.7" fill="#ff7f0e"/><rect x="236.20" y="149.55" width="4.7" height="4.7" fill="#ff7f0e"/><rect x="240.80" y="153.55" width="4.7" height="4.7" fill="#ff7f0e"/><rect x="245.30" y="156.75" width="4.7" height="4.7" fill="#ff7f0e"/><rect x="249.70" y="162.15" width="4.7" height="4.7" fill="#ff7f0e"/><rect x="254.30" y="163.65" width="4.7" height="4.7" fill="#ff7f0e"/><rect x="258.50" y="169.85" width="4.7" height="4.7" fill="#ff7f0e"/><rect x="262.80" y="176.45" width="4.7" height="4.7" fill="#ff7f0e"/><rect x="267.40" y="184.25" width="4.7" height="4.7" fill="#ff7f0e"/><circle cx="185.25" cy="167.50" r="2.45" fill="#1f77b4"/><circle cx="189.65" cy="162.50" r="2.45" fill="#1f77b4"/><circle cx="194.05" cy="152.80" r="2.45" fill="#1f77b4"/><circle cx="198.45" cy="151.20" r="2.45" fill="#1f77b4"/><circle cx="202.85" cy="145.90" r="2.45" fill="#1f77b4"/><circle cx="207.45" cy="144.40" r="2.45" fill="#1f77b4"/><circle cx="211.65" cy="147.40" r="2.45" fill="#1f77b4"/><circle cx="216.05" cy="137.70" r="2.45" fill="#1f77b4"/><circle cx="220.70" cy="148.80" r="2.45" fill="#1f77b4"/><circle cx="225.35" cy="142.70" r="2.45" fill="#1f77b4"/><circle cx="229.85" cy="146.10" r="2.45" fill="#1f77b4"/><circle cx="234.25" cy="148.60" r="2.45" fill="#1f77b4"/><circle cx="238.55" cy="153.40" r="2.45" fill="#1f77b4"/><circle cx="243.15" cy="158.45" r="2.45" fill="#1f77b4"/><circle cx="247.65" cy="160.30" r="2.45" fill="#1f77b4"/><circle cx="252.05" cy="161.20" r="2.45" fill="#1f77b4"/><circle cx="256.65" cy="167.00" r="2.45" fill="#1f77b4"/><circle cx="260.85" cy="177.90" r="2.45" fill="#1f77b4"/><circle cx="265.15" cy="189.20" r="2.45" fill="#1f77b4"/><circle cx="269.75" cy="190.90" r="2.45" fill="#1f77b4"/><path d="M178.30 169.80C178.76 168.95 179.75 166.80 181.05 164.70C182.35 162.60 184.22 159.50 186.10 157.20C187.98 154.90 190.04 152.78 192.35 150.90C194.66 149.02 197.22 147.37 199.95 145.90C202.68 144.43 205.98 143.05 208.75 142.10C211.52 141.15 215.25 140.52 216.55 140.20M216.55 140.20C217.35 140.62 219.28 141.50 221.35 142.70C223.42 143.90 226.68 145.93 229.00 147.40C231.32 148.87 233.16 150.03 235.25 151.50C237.34 152.97 239.45 154.62 241.55 156.20C243.65 157.78 245.75 159.37 247.85 161.00C249.95 162.63 252.15 164.20 254.15 166.00C256.15 167.80 257.55 168.80 259.85 171.80C262.15 174.80 265.58 179.52 267.95 184.00C270.32 188.48 272.03 193.08 274.05 198.70C276.07 204.32 279.00 214.32 280.05 217.70C281.10 221.08 280.30 218.78 280.35 219.00" fill="none" stroke="#2ca02c" stroke-width="1.55" stroke-linejoin="round"/></g>
<rect x="173.50" y="130.00" width="112.0" height="88.0" fill="none" stroke="#000" stroke-width="0.83"/>
<path d="M171.10 217.41H173.50M171.10 205.65H173.50M171.10 193.90H173.50M171.10 182.14H173.50M171.10 170.38H173.50M171.10 158.62H173.50M171.10 146.86H173.50M191.46 218.00V220.40M171.10 135.10H173.50M216.76 218.00V220.40M242.06 218.00V220.40" stroke="#000" stroke-width="0.83" fill="none"/>
<path d="M172.20 217.95H173.50M172.20 213.87H173.50M172.20 211.80H173.50M172.20 210.33H173.50M172.20 209.19H173.50M172.20 208.26H173.50M172.20 207.48H173.50M172.20 206.79H173.50M172.20 206.19H173.50M172.20 202.11H173.50M172.20 200.04H173.50M172.20 198.57H173.50M172.20 197.43H173.50M172.20 196.50H173.50M172.20 195.72H173.50M172.20 195.03H173.50M172.20 194.43H173.50M172.20 190.36H173.50M172.20 188.29H173.50M172.20 186.82H173.50M172.20 185.68H173.50M172.20 184.75H173.50M172.20 183.96H173.50M172.20 183.28H173.50M172.20 182.67H173.50M172.20 178.60H173.50M172.20 176.53H173.50M172.20 175.06H173.50M172.20 173.92H173.50M172.20 172.99H173.50M172.20 172.20H173.50M172.20 171.52H173.50M172.20 170.92H173.50M172.20 166.84H173.50M172.20 164.77H173.50M172.20 163.30H173.50M172.20 162.16H173.50M172.20 161.23H173.50M172.20 160.44H173.50M172.20 159.76H173.50M172.20 159.16H173.50M172.20 155.08H173.50M173.78 218.00V219.30M172.20 153.01H173.50M178.23 218.00V219.30M172.20 151.54H173.50M181.39 218.00V219.30M172.20 150.40H173.50M183.85 218.00V219.30M172.20 149.47H173.50M185.85 218.00V219.30M172.20 148.68H173.50M187.54 218.00V219.30M172.20 148.00H173.50M189.01 218.00V219.30M172.20 147.40H173.50M190.30 218.00V219.30M172.20 143.32H173.50M199.08 218.00V219.30M172.20 141.25H173.50M203.53 218.00V219.30M172.20 139.78H173.50M206.69 218.00V219.30M172.20 138.64H173.50M209.15 218.00V219.30M172.20 137.71H173.50M211.15 218.00V219.30M172.20 136.92H173.50M212.84 218.00V219.30M172.20 136.24H173.50M214.31 218.00V219.30M172.20 135.64H173.50M215.60 218.00V219.30M172.20 131.56H173.50M224.38 218.00V219.30M228.83 218.00V219.30M231.99 218.00V219.30M234.45 218.00V219.30M236.45 218.00V219.30M238.14 218.00V219.30M239.61 218.00V219.30M240.90 218.00V219.30M249.68 218.00V219.30M254.13 218.00V219.30M257.29 218.00V219.30M259.74 218.00V219.30M261.75 218.00V219.30M263.44 218.00V219.30M264.91 218.00V219.30M266.20 218.00V219.30" stroke="#000" stroke-width="0.55" fill="none"/>
<text class="t" x="207.14" y="126.30" font-size="13.2" textLength="44.59" lengthAdjust="spacingAndGlyphs" font-family="Liberation Sans"  fill="#000">Greece</text>
<g clip-path="url(#c21)"><rect x="316.15" y="162.15" width="4.7" height="4.7" fill="#ff7f0e"/><rect x="319.65" y="155.45" width="4.7" height="4.7" fill="#ff7f0e"/><rect x="323.35" y="148.55" width="4.7" height="4.7" fill="#ff7f0e"/><rect x="326.85" y="146.05" width="4.7" height="4.7" fill="#ff7f0e"/><rect x="330.35" y="142.55" width="4.7" height="4.7" fill="#ff7f0e"/><rect x="334.15" y="142.05" width="4.7" height="4.7" fill="#ff7f0e"/><rect x="337.65" y="140.75" width="4.7" height="4.7" fill="#ff7f0e"/><rect x="341.35" y="138.45" width="4.7" height="4.7" fill="#ff7f0e"/><rect x="345.05" y="141.65" width="4.7" height="4.7" fill="#ff7f0e"/><rect x="348.65" y="139.15" width="4.7" height="4.7" fill="#ff7f0e"/><rect x="352.25" y="149.85" width="4.7" height="4.7" fill="#ff7f0e"/><rect x="355.95" y="147.25" width="4.7" height="4.7" fill="#ff7f0e"/><rect x="359.45" y="149.85" width="4.7" height="4.7" fill="#ff7f0e"/><rect x="363.25" y="149.15" width="4.7" height="4.7" fill="#ff7f0e"/><rect x="366.95" y="151.70" width="4.7" height="4.7" fill="#ff7f0e"/><rect x="370.75" y="155.45" width="4.7" height="4.7" fill="#ff7f0e"/><rect x="374.55" y="153.85" width="4.7" height="4.7" fill="#ff7f0e"/><rect x="381.45" y="156.35" width="4.7" height="4.7" fill="#ff7f0e"/><rect x="384.85" y="163.05" width="4.7" height="4.7" fill="#ff7f0e"/><circle cx="318.50" cy="163.20" r="2.45" fill="#1f77b4"/><circle cx="322.00" cy="162.00" r="2.45" fill="#1f77b4"/><circle cx="325.70" cy="157.45" r="2.45" fill="#1f77b4"/><circle cx="329.20" cy="153.40" r="2.45" fill="#1f77b4"/><circle cx="332.70" cy="153.40" r="2.45" fill="#1f77b4"/><circle cx="336.50" cy="148.60" r="2.45" fill="#1f77b4"/><circle cx="340.00" cy="151.90" r="2.45" fill="#1f77b4"/><circle cx="343.70" cy="140.80" r="2.45" fill="#1f77b4"/><circle cx="347.40" cy="154.70" r="2.45" fill="#1f77b4"/><circle cx="351.00" cy="142.35" r="2.45" fill="#1f77b4"/><circle cx="354.60" cy="159.10" r="2.45" fill="#1f77b4"/><circle cx="358.30" cy="147.80" r="2.45" fill="#1f77b4"/><circle cx="361.80" cy="154.40" r="2.45" fill="#1f77b4"/><circle cx="365.60" cy="154.70" r="2.45" fill="#1f77b4"/><circle cx="369.30" cy="153.40" r="2.45" fill="#1f77b4"/><circle cx="373.10" cy="156.60" r="2.45" fill="#1f77b4"/><circle cx="376.90" cy="156.90" r="2.45" fill="#1f77b4"/><circle cx="380.30" cy="159.10" r="2.45" fill="#1f77b4"/><circle cx="383.80" cy="153.70" r="2.45" fill="#1f77b4"/><circle cx="387.20" cy="170.40" r="2.45" fill="#1f77b4"/><path d="M306.27 188.30C306.79 186.57 308.50 180.62 309.40 177.90C310.30 175.18 310.70 174.20 311.70 172.00C312.70 169.80 313.95 167.17 315.40 164.70C316.85 162.23 318.52 159.60 320.40 157.20C322.28 154.80 324.40 152.30 326.70 150.30C329.00 148.30 331.90 146.47 334.20 145.20C336.50 143.93 338.78 143.32 340.50 142.70C342.22 142.08 343.83 141.70 344.50 141.50M344.50 141.50C345.30 141.82 347.55 142.60 349.30 143.40C351.05 144.20 352.35 144.80 355.00 146.30C357.65 147.80 361.78 150.47 365.20 152.40C368.62 154.33 372.42 156.02 375.50 157.90C378.58 159.78 381.32 161.72 383.70 163.70C386.08 165.68 387.75 167.25 389.80 169.80C391.85 172.35 394.12 175.75 396.00 179.00C397.88 182.25 399.57 186.05 401.10 189.30C402.63 192.55 403.98 195.68 405.20 198.50C406.42 201.32 407.87 204.92 408.40 206.20" fill="none" stroke="#2ca02c" stroke-width="1.55" stroke-linejoin="round"/></g>
<rect x="301.50" y="130.00" width="111.5" height="88.0" fill="none" stroke="#000" stroke-width="0.83"/>
<path d="M299.10 217.41H301.50M299.10 205.65H301.50M299.10 193.90H301.50M299.10 182.14H301.50M299.10 170.38H301.50M299.10 158.62H301.50M299.10 146.86H301.50M319.38 218.00V220.40M299.10 135.10H301.50M344.57 218.00V220.40M369.76 218.00V220.40" stroke="#000" stroke-width="0.83" fill="none"/>
<path d="M300.20 217.95H301.50M300.20 213.87H301.50M300.20 211.80H301.50M300.20 210.33H301.50M300.20 209.19H301.50M300.20 208.26H301.50M300.20 207.48H301.50M300.20 206.79H301.50M300.20 206.19H301.50M300.20 202.11H301.50M300.20 200.04H301.50M300.20 198.57H301.50M300.20 197.43H301.50M300.20 196.50H301.50M300.20 195.72H301.50M300.20 195.03H301.50M300.20 194.43H301.50M300.20 190.36H301.50M300.20 188.29H301.50M300.20 186.82H301.50M300.20 185.68H301.50M300.20 184.75H301.50M300.20 183.96H301.50M300.20 183.28H301.50M300.20 182.67H301.50M300.20 178.60H301.50M300.20 176.53H301.50M300.20 175.06H301.50M300.20 173.92H301.50M300.20 172.99H301.50M300.20 172.20H301.50M300.20 171.52H301.50M300.20 170.92H301.50M300.20 166.84H301.50M300.20 164.77H301.50M300.20 163.30H301.50M300.20 162.16H301.50M300.20 161.23H301.50M300.20 160.44H301.50M300.20 159.76H301.50M300.20 159.16H301.50M300.20 155.08H301.50M301.78 218.00V219.30M300.20 153.01H301.50M306.21 218.00V219.30M300.20 151.54H301.50M309.36 218.00V219.30M300.20 150.40H301.50M311.80 218.00V219.30M300.20 149.47H301.50M313.79 218.00V219.30M300.20 148.68H301.50M315.48 218.00V219.30M300.20 148.00H301.50M316.94 218.00V219.30M300.20 147.40H301.50M318.23 218.00V219.30M300.20 143.32H301.50M326.96 218.00V219.30M300.20 141.25H301.50M331.40 218.00V219.30M300.20 139.78H301.50M334.55 218.00V219.30M300.20 138.64H301.50M336.99 218.00V219.30M300.20 137.71H301.50M338.98 218.00V219.30M300.20 136.92H301.50M340.67 218.00V219.30M300.20 136.24H301.50M342.13 218.00V219.30M300.20 135.64H301.50M343.42 218.00V219.30M300.20 131.56H301.50M352.15 218.00V219.30M356.59 218.00V219.30M359.73 218.00V219.30M362.17 218.00V219.30M364.17 218.00V219.30M365.85 218.00V219.30M367.31 218.00V219.30M368.60 218.00V219.30M377.34 218.00V219.30M381.77 218.00V219.30M384.92 218.00V219.30M387.36 218.00V219.30M389.35 218.00V219.30M391.04 218.00V219.30M392.50 218.00V219.30M393.79 218.00V219.30" stroke="#000" stroke-width="0.55" fill="none"/>
<text class="t" x="334.66" y="126.30" font-size="13.2" textLength="45.25" lengthAdjust="spacingAndGlyphs" font-family="Liberation Sans"  fill="#000">Iceland</text>
<g clip-path="url(#c31)"><rect x="444.40" y="148.30" width="4.7" height="4.7" fill="#ff7f0e"/><rect x="448.80" y="141.65" width="4.7" height="4.7" fill="#ff7f0e"/><rect x="453.20" y="140.35" width="4.7" height="4.7" fill="#ff7f0e"/><rect x="457.40" y="139.50" width="4.7" height="4.7" fill="#ff7f0e"/><rect x="461.80" y="138.50" width="4.7" height="4.7" fill="#ff7f0e"/><rect x="465.90" y="138.50" width="4.7" height="4.7" fill="#ff7f0e"/><rect x="470.60" y="137.25" width="4.7" height="4.7" fill="#ff7f0e"/><rect x="475.00" y="142.05" width="4.7" height="4.7" fill="#ff7f0e"/><rect x="479.40" y="142.85" width="4.7" height="4.7" fill="#ff7f0e"/><rect x="483.70" y="145.45" width="4.7" height="4.7" fill="#ff7f0e"/><rect x="488.00" y="147.95" width="4.7" height="4.7" fill="#ff7f0e"/><rect x="492.20" y="151.05" width="4.7" height="4.7" fill="#ff7f0e"/><rect x="496.60" y="154.25" width="4.7" height="4.7" fill="#ff7f0e"/><rect x="501.00" y="156.10" width="4.7" height="4.7" fill="#ff7f0e"/><rect x="505.40" y="160.15" width="4.7" height="4.7" fill="#ff7f0e"/><rect x="509.70" y="164.25" width="4.7" height="4.7" fill="#ff7f0e"/><rect x="514.00" y="169.85" width="4.7" height="4.7" fill="#ff7f0e"/><rect x="518.50" y="175.95" width="4.7" height="4.7" fill="#ff7f0e"/><rect x="522.90" y="181.65" width="4.7" height="4.7" fill="#ff7f0e"/><rect x="527.40" y="198.95" width="4.7" height="4.7" fill="#ff7f0e"/><circle cx="446.75" cy="155.70" r="2.45" fill="#1f77b4"/><circle cx="451.15" cy="151.30" r="2.45" fill="#1f77b4"/><circle cx="455.55" cy="147.10" r="2.45" fill="#1f77b4"/><circle cx="459.75" cy="147.10" r="2.45" fill="#1f77b4"/><circle cx="464.15" cy="143.60" r="2.45" fill="#1f77b4"/><circle cx="468.25" cy="146.75" r="2.45" fill="#1f77b4"/><circle cx="472.95" cy="137.70" r="2.45" fill="#1f77b4"/><circle cx="477.35" cy="148.60" r="2.45" fill="#1f77b4"/><circle cx="481.75" cy="142.70" r="2.45" fill="#1f77b4"/><circle cx="486.05" cy="145.20" r="2.45" fill="#1f77b4"/><circle cx="490.35" cy="152.80" r="2.45" fill="#1f77b4"/><circle cx="494.55" cy="155.70" r="2.45" fill="#1f77b4"/><circle cx="498.95" cy="158.70" r="2.45" fill="#1f77b4"/><circle cx="503.35" cy="161.20" r="2.45" fill="#1f77b4"/><circle cx="507.75" cy="160.30" r="2.45" fill="#1f77b4"/><circle cx="512.05" cy="163.20" r="2.45" fill="#1f77b4"/><circle cx="516.35" cy="177.60" r="2.45" fill="#1f77b4"/><circle cx="520.85" cy="189.70" r="2.45" fill="#1f77b4"/><circle cx="525.25" cy="201.30" r="2.45" fill="#1f77b4"/><circle cx="529.75" cy="189.70" r="2.45" fill="#1f77b4"/><path d="M434.30 169.15C434.97 167.99 436.84 164.41 438.35 162.20C439.86 159.99 441.47 158.00 443.35 155.90C445.23 153.80 447.34 151.48 449.65 149.60C451.96 147.72 454.68 145.95 457.20 144.60C459.72 143.25 462.22 142.33 464.75 141.50C467.27 140.67 471.08 139.92 472.35 139.60M472.35 139.60C473.18 140.12 475.57 141.65 477.35 142.70C479.12 143.75 480.51 144.28 483.00 145.90C485.49 147.52 489.20 150.22 492.30 152.40C495.40 154.58 498.50 156.67 501.60 159.00C504.70 161.33 508.18 163.82 510.90 166.40C513.62 168.98 515.77 171.60 517.90 174.50C520.03 177.40 521.97 180.50 523.70 183.80C525.43 187.10 526.95 190.80 528.30 194.30C529.65 197.80 530.63 201.12 531.80 204.80C532.97 208.48 534.59 213.85 535.30 216.40C536.01 218.95 535.92 219.48 536.05 220.10" fill="none" stroke="#2ca02c" stroke-width="1.55" stroke-linejoin="round"/></g>
<rect x="429.50" y="130.00" width="111.5" height="88.0" fill="none" stroke="#000" stroke-width="0.83"/>
<path d="M427.10 217.41H429.50M427.10 205.65H429.50M427.10 193.90H429.50M427.10 182.14H429.50M427.10 170.38H429.50M427.10 158.62H429.50M427.10 146.86H429.50M447.38 218.00V220.40M427.10 135.10H429.50M472.57 218.00V220.40M497.76 218.00V220.40" stroke="#000" stroke-width="0.83" fill="none"/>
<path d="M428.20 217.95H429.50M428.20 213.87H429.50M428.20 211.80H429.50M428.20 210.33H429.50M428.20 209.19H429.50M428.20 208.26H429.50M428.20 207.48H429.50M428.20 206.79H429.50M428.20 206.19H429.50M428.20 202.11H429.50M428.20 200.04H429.50M428.20 198.57H429.50M428.20 197.43H429.50M428.20 196.50H429.50M428.20 195.72H429.50M428.20 195.03H429.50M428.20 194.43H429.50M428.20 190.36H429.50M428.20 188.29H429.50M428.20 186.82H429.50M428.20 185.68H429.50M428.20 184.75H429.50M428.20 183.96H429.50M428.20 183.28H429.50M428.20 182.67H429.50M428.20 178.60H429.50M428.20 176.53H429.50M428.20 175.06H429.50M428.20 173.92H429.50M428.20 172.99H429.50M428.20 172.20H429.50M428.20 171.52H429.50M428.20 170.92H429.50M428.20 166.84H429.50M428.20 164.77H429.50M428.20 163.30H429.50M428.20 162.16H429.50M428.20 161.23H429.50M428.20 160.44H429.50M428.20 159.76H429.50M428.20 159.16H429.50M428.20 155.08H429.50M429.78 218.00V219.30M428.20 153.01H429.50M434.21 218.00V219.30M428.20 151.54H429.50M437.36 218.00V219.30M428.20 150.40H429.50M439.80 218.00V219.30M428.20 149.47H429.50M441.79 218.00V219.30M428.20 148.68H429.50M443.48 218.00V219.30M428.20 148.00H429.50M444.94 218.00V219.30M428.20 147.40H429.50M446.23 218.00V219.30M428.20 143.32H429.50M454.96 218.00V219.30M428.20 141.25H429.50M459.40 218.00V219.30M428.20 139.78H429.50M462.55 218.00V219.30M428.20 138.64H429.50M464.99 218.00V219.30M428.20 137.71H429.50M466.98 218.00V219.30M428.20 136.92H429.50M468.67 218.00V219.30M428.20 136.24H429.50M470.13 218.00V219.30M428.20 135.64H429.50M471.42 218.00V219.30M428.20 131.56H429.50M480.15 218.00V219.30M484.59 218.00V219.30M487.73 218.00V219.30M490.17 218.00V219.30M492.17 218.00V219.30M493.85 218.00V219.30M495.31 218.00V219.30M496.60 218.00V219.30M505.34 218.00V219.30M509.77 218.00V219.30M512.92 218.00V219.30M515.36 218.00V219.30M517.35 218.00V219.30M519.04 218.00V219.30M520.50 218.00V219.30M521.79 218.00V219.30" stroke="#000" stroke-width="0.55" fill="none"/>
<text class="t" x="468.24" y="126.30" font-size="13.2" textLength="34.11" lengthAdjust="spacingAndGlyphs" font-family="Liberation Sans"  fill="#000">Israel</text>
<g clip-path="url(#c41)"><rect x="568.00" y="152.05" width="4.7" height="4.7" fill="#ff7f0e"/><rect x="572.15" y="141.65" width="4.7" height="4.7" fill="#ff7f0e"/><rect x="576.30" y="143.75" width="4.7" height="4.7" fill="#ff7f0e"/><rect x="580.55" y="140.75" width="4.7" height="4.7" fill="#ff7f0e"/><rect x="584.75" y="139.50" width="4.7" height="4.7" fill="#ff7f0e"/><rect x="588.75" y="137.85" width="4.7" height="4.7" fill="#ff7f0e"/><rect x="592.95" y="140.35" width="4.7" height="4.7" fill="#ff7f0e"/><rect x="596.95" y="136.95" width="4.7" height="4.7" fill="#ff7f0e"/><rect x="601.35" y="141.05" width="4.7" height="4.7" fill="#ff7f0e"/><rect x="605.45" y="142.85" width="4.7" height="4.7" fill="#ff7f0e"/><rect x="609.55" y="144.15" width="4.7" height="4.7" fill="#ff7f0e"/><rect x="613.75" y="149.15" width="4.7" height="4.7" fill="#ff7f0e"/><rect x="617.95" y="150.75" width="4.7" height="4.7" fill="#ff7f0e"/><rect x="622.20" y="152.05" width="4.7" height="4.7" fill="#ff7f0e"/><rect x="626.35" y="155.65" width="4.7" height="4.7" fill="#ff7f0e"/><rect x="630.45" y="155.05" width="4.7" height="4.7" fill="#ff7f0e"/><rect x="634.65" y="161.05" width="4.7" height="4.7" fill="#ff7f0e"/><rect x="638.85" y="167.35" width="4.7" height="4.7" fill="#ff7f0e"/><rect x="642.95" y="169.15" width="4.7" height="4.7" fill="#ff7f0e"/><rect x="647.05" y="170.35" width="4.7" height="4.7" fill="#ff7f0e"/><circle cx="570.35" cy="164.40" r="2.45" fill="#1f77b4"/><circle cx="574.50" cy="156.30" r="2.45" fill="#1f77b4"/><circle cx="578.65" cy="155.30" r="2.45" fill="#1f77b4"/><circle cx="582.90" cy="149.90" r="2.45" fill="#1f77b4"/><circle cx="587.10" cy="145.90" r="2.45" fill="#1f77b4"/><circle cx="591.10" cy="144.00" r="2.45" fill="#1f77b4"/><circle cx="595.30" cy="147.40" r="2.45" fill="#1f77b4"/><circle cx="599.30" cy="135.60" r="2.45" fill="#1f77b4"/><circle cx="603.70" cy="149.65" r="2.45" fill="#1f77b4"/><circle cx="607.80" cy="143.60" r="2.45" fill="#1f77b4"/><circle cx="611.90" cy="148.40" r="2.45" fill="#1f77b4"/><circle cx="616.10" cy="149.00" r="2.45" fill="#1f77b4"/><circle cx="620.30" cy="151.90" r="2.45" fill="#1f77b4"/><circle cx="624.55" cy="155.25" r="2.45" fill="#1f77b4"/><circle cx="628.70" cy="158.40" r="2.45" fill="#1f77b4"/><circle cx="632.80" cy="160.65" r="2.45" fill="#1f77b4"/><circle cx="637.00" cy="161.50" r="2.45" fill="#1f77b4"/><circle cx="641.20" cy="165.30" r="2.45" fill="#1f77b4"/><circle cx="645.30" cy="178.20" r="2.45" fill="#1f77b4"/><circle cx="649.40" cy="186.10" r="2.45" fill="#1f77b4"/><path d="M562.30 166.00C562.97 164.95 564.78 161.69 566.30 159.70C567.82 157.71 569.51 155.83 571.40 154.05C573.29 152.27 575.35 150.57 577.65 149.00C579.95 147.43 582.68 145.79 585.20 144.60C587.72 143.41 590.25 142.62 592.75 141.85C595.25 141.08 598.96 140.31 600.20 140.00M600.20 140.00C601.05 140.45 603.67 141.78 605.30 142.70C606.93 143.62 607.67 143.88 610.00 145.50C612.33 147.12 616.20 150.27 619.30 152.40C622.40 154.53 625.50 156.17 628.60 158.30C631.70 160.43 635.18 162.88 637.90 165.20C640.62 167.52 642.77 169.68 644.90 172.20C647.03 174.72 648.97 177.38 650.70 180.30C652.43 183.22 653.87 186.40 655.30 189.70C656.73 193.00 658.13 196.82 659.30 200.10C660.47 203.38 661.41 206.88 662.30 209.40C663.19 211.92 664.26 214.23 664.65 215.20" fill="none" stroke="#2ca02c" stroke-width="1.55" stroke-linejoin="round"/></g>
<rect x="557.50" y="130.00" width="111.5" height="88.0" fill="none" stroke="#000" stroke-width="0.83"/>
<path d="M555.10 217.41H557.50M555.10 205.65H557.50M555.10 193.90H557.50M555.10 182.14H557.50M555.10 170.38H557.50M555.10 158.62H557.50M555.10 146.86H557.50M575.38 218.00V220.40M555.10 135.10H557.50M600.57 218.00V220.40M625.76 218.00V220.40" stroke="#000" stroke-width="0.83" fill="none"/>
<path d="M556.20 217.95H557.50M556.20 213.87H557.50M556.20 211.80H557.50M556.20 210.33H557.50M556.20 209.19H557.50M556.20 208.26H557.50M556.20 207.48H557.50M556.20 206.79H557.50M556.20 206.19H557.50M556.20 202.11H557.50M556.20 200.04H557.50M556.20 198.57H557.50M556.20 197.43H557.50M556.20 196.50H557.50M556.20 195.72H557.50M556.20 195.03H557.50M556.20 194.43H557.50M556.20 190.36H557.50M556.20 188.29H557.50M556.20 186.82H557.50M556.20 185.68H557.50M556.20 184.75H557.50M556.20 183.96H557.50M556.20 183.28H557.50M556.20 182.67H557.50M556.20 178.60H557.50M556.20 176.53H557.50M556.20 175.06H557.50M556.20 173.92H557.50M556.20 172.99H557.50M556.20 172.20H557.50M556.20 171.52H557.50M556.20 170.92H557.50M556.20 166.84H557.50M556.20 164.77H557.50M556.20 163.30H557.50M556.20 162.16H557.50M556.20 161.23H557.50M556.20 160.44H557.50M556.20 159.76H557.50M556.20 159.16H557.50M556.20 155.08H557.50M557.78 218.00V219.30M556.20 153.01H557.50M562.21 218.00V219.30M556.20 151.54H557.50M565.36 218.00V219.30M556.20 150.40H557.50M567.80 218.00V219.30M556.20 149.47H557.50M569.79 218.00V219.30M556.20 148.68H557.50M571.48 218.00V219.30M556.20 148.00H557.50M572.94 218.00V219.30M556.20 147.40H557.50M574.23 218.00V219.30M556.20 143.32H557.50M582.96 218.00V219.30M556.20 141.25H557.50M587.40 218.00V219.30M556.20 139.78H557.50M590.55 218.00V219.30M556.20 138.64H557.50M592.99 218.00V219.30M556.20 137.71H557.50M594.98 218.00V219.30M556.20 136.92H557.50M596.67 218.00V219.30M556.20 136.24H557.50M598.13 218.00V219.30M556.20 135.64H557.50M599.42 218.00V219.30M556.20 131.56H557.50M608.15 218.00V219.30M612.59 218.00V219.30M615.73 218.00V219.30M618.17 218.00V219.30M620.17 218.00V219.30M621.85 218.00V219.30M623.31 218.00V219.30M624.60 218.00V219.30M633.34 218.00V219.30M637.77 218.00V219.30M640.92 218.00V219.30M643.36 218.00V219.30M645.35 218.00V219.30M647.04 218.00V219.30M648.50 218.00V219.30M649.79 218.00V219.30" stroke="#000" stroke-width="0.55" fill="none"/>
<text class="t" x="572.28" y="126.30" font-size="13.2" textLength="82.14" lengthAdjust="spacingAndGlyphs" font-family="Liberation Sans"  fill="#000">New Zealand</text>
<g clip-path="url(#c02)"><rect x="58.45" y="260.25" width="4.7" height="4.7" fill="#ff7f0e"/><rect x="63.30" y="257.35" width="4.7" height="4.7" fill="#ff7f0e"/><rect x="68.05" y="254.85" width="4.7" height="4.7" fill="#ff7f0e"/><rect x="72.95" y="253.95" width="4.7" height="4.7" fill="#ff7f0e"/><rect x="77.75" y="253.25" width="4.7" height="4.7" fill="#ff7f0e"/><rect x="82.55" y="254.25" width="4.7" height="4.7" fill="#ff7f0e"/><rect x="87.45" y="254.25" width="4.7" height="4.7" fill="#ff7f0e"/><rect x="92.25" y="255.25" width="4.7" height="4.7" fill="#ff7f0e"/><rect x="97.05" y="261.75" width="4.7" height="4.7" fill="#ff7f0e"/><rect x="102.05" y="264.95" width="4.7" height="4.7" fill="#ff7f0e"/><rect x="106.85" y="267.45" width="4.7" height="4.7" fill="#ff7f0e"/><rect x="111.55" y="269.95" width="4.7" height="4.7" fill="#ff7f0e"/><rect x="116.35" y="273.15" width="4.7" height="4.7" fill="#ff7f0e"/><rect x="121.25" y="278.15" width="4.7" height="4.7" fill="#ff7f0e"/><rect x="125.95" y="283.15" width="4.7" height="4.7" fill="#ff7f0e"/><rect x="130.65" y="289.95" width="4.7" height="4.7" fill="#ff7f0e"/><rect x="135.45" y="293.45" width="4.7" height="4.7" fill="#ff7f0e"/><rect x="140.05" y="303.85" width="4.7" height="4.7" fill="#ff7f0e"/><circle cx="56.00" cy="289.30" r="2.45" fill="#1f77b4"/><circle cx="60.80" cy="273.80" r="2.45" fill="#1f77b4"/><circle cx="65.65" cy="264.80" r="2.45" fill="#1f77b4"/><circle cx="70.40" cy="263.10" r="2.45" fill="#1f77b4"/><circle cx="75.30" cy="259.70" r="2.45" fill="#1f77b4"/><circle cx="80.10" cy="258.85" r="2.45" fill="#1f77b4"/><circle cx="84.90" cy="261.20" r="2.45" fill="#1f77b4"/><circle cx="89.80" cy="254.70" r="2.45" fill="#1f77b4"/><circle cx="94.60" cy="259.35" r="2.45" fill="#1f77b4"/><circle cx="99.40" cy="262.60" r="2.45" fill="#1f77b4"/><circle cx="104.40" cy="264.80" r="2.45" fill="#1f77b4"/><circle cx="109.20" cy="269.20" r="2.45" fill="#1f77b4"/><circle cx="113.90" cy="273.90" r="2.45" fill="#1f77b4"/><circle cx="118.70" cy="277.30" r="2.45" fill="#1f77b4"/><circle cx="123.60" cy="278.20" r="2.45" fill="#1f77b4"/><circle cx="128.30" cy="284.00" r="2.45" fill="#1f77b4"/><circle cx="133.00" cy="297.00" r="2.45" fill="#1f77b4"/><circle cx="137.80" cy="297.00" r="2.45" fill="#1f77b4"/><circle cx="142.40" cy="317.95" r="2.45" fill="#1f77b4"/><circle cx="147.20" cy="317.95" r="2.45" fill="#1f77b4"/><path d="M50.55 285.50C51.17 284.25 52.82 280.52 54.30 278.00C55.77 275.48 57.51 272.72 59.40 270.40C61.29 268.08 63.35 265.98 65.65 264.10C67.95 262.22 70.68 260.35 73.20 259.10C75.72 257.85 78.15 257.15 80.75 256.60C83.35 256.05 87.46 255.93 88.80 255.80M88.80 255.80C89.55 256.25 91.60 257.38 93.30 258.50C95.00 259.62 96.50 260.87 99.00 262.50C101.50 264.13 105.20 266.17 108.30 268.30C111.40 270.43 114.50 272.78 117.60 275.30C120.70 277.82 124.18 280.88 126.90 283.40C129.62 285.92 131.77 287.88 133.90 290.40C136.03 292.92 137.97 295.78 139.70 298.50C141.43 301.22 142.75 303.78 144.30 306.70C145.85 309.62 147.63 313.10 149.00 316.00C150.37 318.90 151.92 322.75 152.50 324.10" fill="none" stroke="#2ca02c" stroke-width="1.55" stroke-linejoin="round"/></g>
<rect x="45.50" y="246.50" width="112.0" height="88.0" fill="none" stroke="#000" stroke-width="0.83"/>
<path d="M43.10 333.91H45.50M43.10 322.15H45.50M43.10 310.40H45.50M43.10 298.64H45.50M43.10 286.88H45.50M43.10 275.12H45.50M43.10 263.36H45.50M63.46 334.50V336.90M43.10 251.60H45.50M88.76 334.50V336.90M114.06 334.50V336.90" stroke="#000" stroke-width="0.83" fill="none"/>
<path d="M44.20 334.45H45.50M44.20 330.37H45.50M44.20 328.30H45.50M44.20 326.83H45.50M44.20 325.69H45.50M44.20 324.76H45.50M44.20 323.98H45.50M44.20 323.29H45.50M44.20 322.69H45.50M44.20 318.61H45.50M44.20 316.54H45.50M44.20 315.07H45.50M44.20 313.93H45.50M44.20 313.00H45.50M44.20 312.22H45.50M44.20 311.53H45.50M44.20 310.93H45.50M44.20 306.86H45.50M44.20 304.79H45.50M44.20 303.32H45.50M44.20 302.18H45.50M44.20 301.25H45.50M44.20 300.46H45.50M44.20 299.78H45.50M44.20 299.17H45.50M44.20 295.10H45.50M44.20 293.03H45.50M44.20 291.56H45.50M44.20 290.42H45.50M44.20 289.49H45.50M44.20 288.70H45.50M44.20 288.02H45.50M44.20 287.42H45.50M44.20 283.34H45.50M44.20 281.27H45.50M44.20 279.80H45.50M44.20 278.66H45.50M44.20 277.73H45.50M44.20 276.94H45.50M44.20 276.26H45.50M44.20 275.66H45.50M44.20 271.58H45.50M45.78 334.50V335.80M44.20 269.51H45.50M50.23 334.50V335.80M44.20 268.04H45.50M53.39 334.50V335.80M44.20 266.90H45.50M55.85 334.50V335.80M44.20 265.97H45.50M57.85 334.50V335.80M44.20 265.18H45.50M59.54 334.50V335.80M44.20 264.50H45.50M61.01 334.50V335.80M44.20 263.90H45.50M62.30 334.50V335.80M44.20 259.82H45.50M71.08 334.50V335.80M44.20 257.75H45.50M75.53 334.50V335.80M44.20 256.28H45.50M78.69 334.50V335.80M44.20 255.14H45.50M81.15 334.50V335.80M44.20 254.21H45.50M83.15 334.50V335.80M44.20 253.42H45.50M84.84 334.50V335.80M44.20 252.74H45.50M86.31 334.50V335.80M44.20 252.14H45.50M87.60 334.50V335.80M44.20 248.06H45.50M96.38 334.50V335.80M100.83 334.50V335.80M103.99 334.50V335.80M106.45 334.50V335.80M108.45 334.50V335.80M110.14 334.50V335.80M111.61 334.50V335.80M112.90 334.50V335.80M121.68 334.50V335.80M126.13 334.50V335.80M129.29 334.50V335.80M131.74 334.50V335.80M133.75 334.50V335.80M135.44 334.50V335.80M136.91 334.50V335.80M138.20 334.50V335.80" stroke="#000" stroke-width="0.55" fill="none"/>
<text class="t" x="80.62" y="242.80" font-size="13.2" textLength="41.47" lengthAdjust="spacingAndGlyphs" font-family="Liberation Sans"  fill="#000">Poland</text>
<g clip-path="url(#c12)"><rect x="186.50" y="263.65" width="4.7" height="4.7" fill="#ff7f0e"/><rect x="191.05" y="257.35" width="4.7" height="4.7" fill="#ff7f0e"/><rect x="195.45" y="257.35" width="4.7" height="4.7" fill="#ff7f0e"/><rect x="200.10" y="254.25" width="4.7" height="4.7" fill="#ff7f0e"/><rect x="204.80" y="254.65" width="4.7" height="4.7" fill="#ff7f0e"/><rect x="209.30" y="254.85" width="4.7" height="4.7" fill="#ff7f0e"/><rect x="214.20" y="253.95" width="4.7" height="4.7" fill="#ff7f0e"/><rect x="218.70" y="256.15" width="4.7" height="4.7" fill="#ff7f0e"/><rect x="223.40" y="259.55" width="4.7" height="4.7" fill="#ff7f0e"/><rect x="227.90" y="262.41" width="4.7" height="4.7" fill="#ff7f0e"/><rect x="232.30" y="266.15" width="4.7" height="4.7" fill="#ff7f0e"/><rect x="237.00" y="268.05" width="4.7" height="4.7" fill="#ff7f0e"/><rect x="241.75" y="271.25" width="4.7" height="4.7" fill="#ff7f0e"/><rect x="246.40" y="274.35" width="4.7" height="4.7" fill="#ff7f0e"/><rect x="251.20" y="280.05" width="4.7" height="4.7" fill="#ff7f0e"/><rect x="255.60" y="285.05" width="4.7" height="4.7" fill="#ff7f0e"/><rect x="260.10" y="289.45" width="4.7" height="4.7" fill="#ff7f0e"/><rect x="265.10" y="293.45" width="4.7" height="4.7" fill="#ff7f0e"/><rect x="269.50" y="301.25" width="4.7" height="4.7" fill="#ff7f0e"/><circle cx="188.85" cy="273.60" r="2.45" fill="#1f77b4"/><circle cx="193.40" cy="268.20" r="2.45" fill="#1f77b4"/><circle cx="197.80" cy="266.40" r="2.45" fill="#1f77b4"/><circle cx="202.45" cy="261.00" r="2.45" fill="#1f77b4"/><circle cx="207.15" cy="260.10" r="2.45" fill="#1f77b4"/><circle cx="211.65" cy="262.90" r="2.45" fill="#1f77b4"/><circle cx="216.55" cy="254.10" r="2.45" fill="#1f77b4"/><circle cx="221.05" cy="265.40" r="2.45" fill="#1f77b4"/><circle cx="225.75" cy="259.70" r="2.45" fill="#1f77b4"/><circle cx="230.25" cy="262.60" r="2.45" fill="#1f77b4"/><circle cx="234.65" cy="266.90" r="2.45" fill="#1f77b4"/><circle cx="239.35" cy="271.90" r="2.45" fill="#1f77b4"/><circle cx="244.10" cy="277.00" r="2.45" fill="#1f77b4"/><circle cx="248.75" cy="275.50" r="2.45" fill="#1f77b4"/><circle cx="253.55" cy="279.50" r="2.45" fill="#1f77b4"/><circle cx="257.95" cy="283.30" r="2.45" fill="#1f77b4"/><circle cx="262.45" cy="299.80" r="2.45" fill="#1f77b4"/><circle cx="267.45" cy="296.70" r="2.45" fill="#1f77b4"/><circle cx="271.85" cy="311.00" r="2.45" fill="#1f77b4"/><circle cx="276.65" cy="310.50" r="2.45" fill="#1f77b4"/><path d="M178.30 281.50C178.97 280.49 180.84 277.40 182.35 275.45C183.86 273.50 185.47 271.57 187.35 269.80C189.23 268.03 191.34 266.37 193.65 264.80C195.96 263.23 198.68 261.57 201.20 260.40C203.72 259.23 206.18 258.42 208.75 257.80C211.32 257.18 215.33 256.88 216.65 256.70M216.65 256.70C217.43 257.10 219.62 258.22 221.35 259.10C223.07 259.98 224.51 260.47 227.00 262.00C229.49 263.53 233.20 265.82 236.30 268.30C239.40 270.78 242.50 274.10 245.60 276.90C248.70 279.70 252.18 282.47 254.90 285.10C257.62 287.73 259.77 290.08 261.90 292.70C264.03 295.32 265.97 297.90 267.70 300.80C269.43 303.70 270.87 306.80 272.30 310.10C273.73 313.40 275.02 316.72 276.30 320.60C277.58 324.48 279.31 330.83 280.00 333.40C280.69 335.97 280.38 335.57 280.45 336.00" fill="none" stroke="#2ca02c" stroke-width="1.55" stroke-linejoin="round"/></g>
<rect x="173.50" y="246.50" width="112.0" height="88.0" fill="none" stroke="#000" stroke-width="0.83"/>
<path d="M171.10 333.91H173.50M171.10 322.15H173.50M171.10 310.40H173.50M171.10 298.64H173.50M171.10 286.88H173.50M171.10 275.12H173.50M171.10 263.36H173.50M191.46 334.50V336.90M171.10 251.60H173.50M216.76 334.50V336.90M242.06 334.50V336.90" stroke="#000" stroke-width="0.83" fill="none"/>
<path d="M172.20 334.45H173.50M172.20 330.37H173.50M172.20 328.30H173.50M172.20 326.83H173.50M172.20 325.69H173.50M172.20 324.76H173.50M172.20 323.98H173.50M172.20 323.29H173.50M172.20 322.69H173.50M172.20 318.61H173.50M172.20 316.54H173.50M172.20 315.07H173.50M172.20 313.93H173.50M172.20 313.00H173.50M172.20 312.22H173.50M172.20 311.53H173.50M172.20 310.93H173.50M172.20 306.86H173.50M172.20 304.79H173.50M172.20 303.32H173.50M172.20 302.18H173.50M172.20 301.25H173.50M172.20 300.46H173.50M172.20 299.78H173.50M172.20 299.17H173.50M172.20 295.10H173.50M172.20 293.03H173.50M172.20 291.56H173.50M172.20 290.42H173.50M172.20 289.49H173.50M172.20 288.70H173.50M172.20 288.02H173.50M172.20 287.42H173.50M172.20 283.34H173.50M172.20 281.27H173.50M172.20 279.80H173.50M172.20 278.66H173.50M172.20 277.73H173.50M172.20 276.94H173.50M172.20 276.26H173.50M172.20 275.66H173.50M172.20 271.58H173.50M173.78 334.50V335.80M172.20 269.51H173.50M178.23 334.50V335.80M172.20 268.04H173.50M181.39 334.50V335.80M172.20 266.90H173.50M183.85 334.50V335.80M172.20 265.97H173.50M185.85 334.50V335.80M172.20 265.18H173.50M187.54 334.50V335.80M172.20 264.50H173.50M189.01 334.50V335.80M172.20 263.90H173.50M190.30 334.50V335.80M172.20 259.82H173.50M199.08 334.50V335.80M172.20 257.75H173.50M203.53 334.50V335.80M172.20 256.28H173.50M206.69 334.50V335.80M172.20 255.14H173.50M209.15 334.50V335.80M172.20 254.21H173.50M211.15 334.50V335.80M172.20 253.42H173.50M212.84 334.50V335.80M172.20 252.74H173.50M214.31 334.50V335.80M172.20 252.14H173.50M215.60 334.50V335.80M172.20 248.06H173.50M224.38 334.50V335.80M228.83 334.50V335.80M231.99 334.50V335.80M234.45 334.50V335.80M236.45 334.50V335.80M238.14 334.50V335.80M239.61 334.50V335.80M240.90 334.50V335.80M249.68 334.50V335.80M254.13 334.50V335.80M257.29 334.50V335.80M259.74 334.50V335.80M261.75 334.50V335.80M263.44 334.50V335.80M264.91 334.50V335.80M266.20 334.50V335.80" stroke="#000" stroke-width="0.55" fill="none"/>
<text class="t" x="203.56" y="242.80" font-size="13.2" textLength="51.62" lengthAdjust="spacingAndGlyphs" font-family="Liberation Sans"  fill="#000">Portugal</text>
<g clip-path="url(#c22)"><rect x="314.15" y="263.25" width="4.7" height="4.7" fill="#ff7f0e"/><rect x="318.95" y="258.35" width="4.7" height="4.7" fill="#ff7f0e"/><rect x="323.45" y="257.35" width="4.7" height="4.7" fill="#ff7f0e"/><rect x="328.35" y="253.85" width="4.7" height="4.7" fill="#ff7f0e"/><rect x="333.15" y="253.25" width="4.7" height="4.7" fill="#ff7f0e"/><rect x="337.95" y="254.25" width="4.7" height="4.7" fill="#ff7f0e"/><rect x="342.85" y="253.60" width="4.7" height="4.7" fill="#ff7f0e"/><rect x="347.65" y="257.35" width="4.7" height="4.7" fill="#ff7f0e"/><rect x="352.35" y="258.05" width="4.7" height="4.7" fill="#ff7f0e"/><rect x="357.25" y="262.45" width="4.7" height="4.7" fill="#ff7f0e"/><rect x="362.15" y="266.15" width="4.7" height="4.7" fill="#ff7f0e"/><rect x="366.95" y="269.95" width="4.7" height="4.7" fill="#ff7f0e"/><rect x="371.95" y="273.75" width="4.7" height="4.7" fill="#ff7f0e"/><rect x="376.55" y="280.05" width="4.7" height="4.7" fill="#ff7f0e"/><rect x="381.35" y="283.95" width="4.7" height="4.7" fill="#ff7f0e"/><rect x="386.15" y="290.85" width="4.7" height="4.7" fill="#ff7f0e"/><rect x="391.05" y="296.35" width="4.7" height="4.7" fill="#ff7f0e"/><rect x="395.75" y="303.85" width="4.7" height="4.7" fill="#ff7f0e"/><circle cx="311.60" cy="284.30" r="2.45" fill="#1f77b4"/><circle cx="316.50" cy="274.60" r="2.45" fill="#1f77b4"/><circle cx="321.30" cy="268.30" r="2.45" fill="#1f77b4"/><circle cx="325.80" cy="264.80" r="2.45" fill="#1f77b4"/><circle cx="330.70" cy="259.70" r="2.45" fill="#1f77b4"/><circle cx="335.50" cy="258.85" r="2.45" fill="#1f77b4"/><circle cx="340.30" cy="261.40" r="2.45" fill="#1f77b4"/><circle cx="345.20" cy="253.40" r="2.45" fill="#1f77b4"/><circle cx="350.00" cy="264.10" r="2.45" fill="#1f77b4"/><circle cx="354.70" cy="258.85" r="2.45" fill="#1f77b4"/><circle cx="359.60" cy="266.00" r="2.45" fill="#1f77b4"/><circle cx="364.50" cy="269.20" r="2.45" fill="#1f77b4"/><circle cx="369.30" cy="273.90" r="2.45" fill="#1f77b4"/><circle cx="374.30" cy="278.00" r="2.45" fill="#1f77b4"/><circle cx="378.90" cy="280.50" r="2.45" fill="#1f77b4"/><circle cx="383.70" cy="286.50" r="2.45" fill="#1f77b4"/><circle cx="388.50" cy="296.70" r="2.45" fill="#1f77b4"/><circle cx="393.40" cy="304.45" r="2.45" fill="#1f77b4"/><circle cx="398.10" cy="308.80" r="2.45" fill="#1f77b4"/><circle cx="403.20" cy="316.90" r="2.45" fill="#1f77b4"/><path d="M306.27 293.20C306.36 292.68 306.13 291.85 306.80 290.05C307.47 288.25 308.87 285.04 310.30 282.40C311.73 279.76 313.51 276.82 315.40 274.20C317.29 271.57 319.35 268.85 321.65 266.65C323.95 264.45 326.69 262.57 329.20 261.00C331.71 259.43 334.15 258.08 336.70 257.20C339.25 256.32 343.20 255.95 344.50 255.70M344.50 255.70C345.30 256.17 347.55 257.43 349.30 258.50C351.05 259.57 352.50 260.40 355.00 262.10C357.50 263.80 361.20 266.20 364.30 268.70C367.40 271.20 370.50 274.27 373.60 277.10C376.70 279.93 380.18 282.90 382.90 285.70C385.62 288.50 387.77 291.18 389.90 293.90C392.03 296.62 393.97 299.10 395.70 302.00C397.43 304.90 398.87 308.00 400.30 311.30C401.73 314.60 403.02 317.92 404.30 321.80C405.58 325.68 407.33 332.23 408.00 334.60C408.67 336.97 408.25 335.77 408.30 336.00" fill="none" stroke="#2ca02c" stroke-width="1.55" stroke-linejoin="round"/></g>
<rect x="301.50" y="246.50" width="111.5" height="88.0" fill="none" stroke="#000" stroke-width="0.83"/>
<path d="M299.10 333.91H301.50M299.10 322.15H301.50M299.10 310.40H301.50M299.10 298.64H301.50M299.10 286.88H301.50M299.10 275.12H301.50M299.10 263.36H301.50M319.38 334.50V336.90M299.10 251.60H301.50M344.57 334.50V336.90M369.76 334.50V336.90" stroke="#000" stroke-width="0.83" fill="none"/>
<path d="M300.20 334.45H301.50M300.20 330.37H301.50M300.20 328.30H301.50M300.20 326.83H301.50M300.20 325.69H301.50M300.20 324.76H301.50M300.20 323.98H301.50M300.20 323.29H301.50M300.20 322.69H301.50M300.20 318.61H301.50M300.20 316.54H301.50M300.20 315.07H301.50M300.20 313.93H301.50M300.20 313.00H301.50M300.20 312.22H301.50M300.20 311.53H301.50M300.20 310.93H301.50M300.20 306.86H301.50M300.20 304.79H301.50M300.20 303.32H301.50M300.20 302.18H301.50M300.20 301.25H301.50M300.20 300.46H301.50M300.20 299.78H301.50M300.20 299.17H301.50M300.20 295.10H301.50M300.20 293.03H301.50M300.20 291.56H301.50M300.20 290.42H301.50M300.20 289.49H301.50M300.20 288.70H301.50M300.20 288.02H301.50M300.20 287.42H301.50M300.20 283.34H301.50M300.20 281.27H301.50M300.20 279.80H301.50M300.20 278.66H301.50M300.20 277.73H301.50M300.20 276.94H301.50M300.20 276.26H301.50M300.20 275.66H301.50M300.20 271.58H301.50M301.78 334.50V335.80M300.20 269.51H301.50M306.21 334.50V335.80M300.20 268.04H301.50M309.36 334.50V335.80M300.20 266.90H301.50M311.80 334.50V335.80M300.20 265.97H301.50M313.79 334.50V335.80M300.20 265.18H301.50M315.48 334.50V335.80M300.20 264.50H301.50M316.94 334.50V335.80M300.20 263.90H301.50M318.23 334.50V335.80M300.20 259.82H301.50M326.96 334.50V335.80M300.20 257.75H301.50M331.40 334.50V335.80M300.20 256.28H301.50M334.55 334.50V335.80M300.20 255.14H301.50M336.99 334.50V335.80M300.20 254.21H301.50M338.98 334.50V335.80M300.20 253.42H301.50M340.67 334.50V335.80M300.20 252.74H301.50M342.13 334.50V335.80M300.20 252.14H301.50M343.42 334.50V335.80M300.20 248.06H301.50M352.15 334.50V335.80M356.59 334.50V335.80M359.73 334.50V335.80M362.17 334.50V335.80M364.17 334.50V335.80M365.85 334.50V335.80M367.31 334.50V335.80M368.60 334.50V335.80M377.34 334.50V335.80M381.77 334.50V335.80M384.92 334.50V335.80M387.36 334.50V335.80M389.35 334.50V335.80M391.04 334.50V335.80M392.50 334.50V335.80M393.79 334.50V335.80" stroke="#000" stroke-width="0.55" fill="none"/>
<text class="t" x="340.27" y="242.80" font-size="13.2" textLength="34.67" lengthAdjust="spacingAndGlyphs" font-family="Liberation Sans"  fill="#000">Spain</text>
<g clip-path="url(#c32)"><rect x="452.60" y="270.35" width="4.7" height="4.7" fill="#ff7f0e"/><rect x="456.70" y="261.15" width="4.7" height="4.7" fill="#ff7f0e"/><rect x="460.80" y="250.45" width="4.7" height="4.7" fill="#ff7f0e"/><rect x="464.70" y="256.75" width="4.7" height="4.7" fill="#ff7f0e"/><rect x="468.70" y="249.45" width="4.7" height="4.7" fill="#ff7f0e"/><rect x="472.70" y="264.95" width="4.7" height="4.7" fill="#ff7f0e"/><rect x="476.60" y="258.65" width="4.7" height="4.7" fill="#ff7f0e"/><rect x="480.60" y="264.30" width="4.7" height="4.7" fill="#ff7f0e"/><rect x="484.55" y="264.95" width="4.7" height="4.7" fill="#ff7f0e"/><rect x="488.70" y="266.15" width="4.7" height="4.7" fill="#ff7f0e"/><rect x="492.90" y="265.55" width="4.7" height="4.7" fill="#ff7f0e"/><rect x="496.90" y="269.05" width="4.7" height="4.7" fill="#ff7f0e"/><rect x="500.90" y="273.75" width="4.7" height="4.7" fill="#ff7f0e"/><rect x="504.90" y="281.25" width="4.7" height="4.7" fill="#ff7f0e"/><rect x="508.90" y="273.10" width="4.7" height="4.7" fill="#ff7f0e"/><rect x="512.90" y="302.95" width="4.7" height="4.7" fill="#ff7f0e"/><circle cx="438.70" cy="274.45" r="2.45" fill="#1f77b4"/><circle cx="442.75" cy="272.90" r="2.45" fill="#1f77b4"/><circle cx="446.75" cy="272.90" r="2.45" fill="#1f77b4"/><circle cx="450.90" cy="271.90" r="2.45" fill="#1f77b4"/><circle cx="454.95" cy="271.40" r="2.45" fill="#1f77b4"/><circle cx="459.05" cy="261.00" r="2.45" fill="#1f77b4"/><circle cx="463.15" cy="250.00" r="2.45" fill="#1f77b4"/><circle cx="467.05" cy="263.75" r="2.45" fill="#1f77b4"/><circle cx="471.05" cy="253.10" r="2.45" fill="#1f77b4"/><circle cx="475.05" cy="273.80" r="2.45" fill="#1f77b4"/><circle cx="478.95" cy="262.50" r="2.45" fill="#1f77b4"/><circle cx="482.95" cy="268.50" r="2.45" fill="#1f77b4"/><circle cx="486.90" cy="273.20" r="2.45" fill="#1f77b4"/><circle cx="491.05" cy="271.40" r="2.45" fill="#1f77b4"/><circle cx="495.25" cy="265.40" r="2.45" fill="#1f77b4"/><circle cx="499.25" cy="278.00" r="2.45" fill="#1f77b4"/><circle cx="503.25" cy="273.20" r="2.45" fill="#1f77b4"/><circle cx="507.25" cy="298.40" r="2.45" fill="#1f77b4"/><circle cx="511.25" cy="274.80" r="2.45" fill="#1f77b4"/><circle cx="515.25" cy="285.30" r="2.45" fill="#1f77b4"/><path d="M439.85 335.00C439.87 334.82 439.24 338.27 439.98 333.90C440.72 329.53 443.01 316.11 444.31 308.80C445.60 301.49 446.65 294.77 447.75 290.05C448.85 285.33 449.75 283.67 450.90 280.50C452.05 277.33 453.29 273.78 454.65 271.05C456.01 268.32 457.58 265.99 459.05 264.10C460.52 262.21 462.08 260.78 463.45 259.70C464.82 258.62 465.77 258.20 467.25 257.60C468.73 257.00 471.50 256.35 472.35 256.10M472.35 256.10C473.18 256.70 475.57 258.60 477.35 259.70C479.12 260.80 480.51 261.20 483.00 262.70C485.49 264.20 489.20 266.33 492.30 268.70C495.40 271.07 498.50 274.07 501.60 276.90C504.70 279.73 508.18 282.68 510.90 285.70C513.62 288.72 515.77 291.90 517.90 295.00C520.03 298.10 521.97 301.20 523.70 304.30C525.43 307.40 526.95 310.50 528.30 313.60C529.65 316.70 530.63 319.60 531.80 322.90C532.97 326.20 534.64 331.22 535.30 333.40C535.96 335.58 535.67 335.57 535.75 336.00" fill="none" stroke="#2ca02c" stroke-width="1.55" stroke-linejoin="round"/></g>
<rect x="429.50" y="246.50" width="111.5" height="88.0" fill="none" stroke="#000" stroke-width="0.83"/>
<path d="M427.10 333.91H429.50M427.10 322.15H429.50M427.10 310.40H429.50M427.10 298.64H429.50M427.10 286.88H429.50M427.10 275.12H429.50M427.10 263.36H429.50M447.38 334.50V336.90M427.10 251.60H429.50M472.57 334.50V336.90M497.76 334.50V336.90" stroke="#000" stroke-width="0.83" fill="none"/>
<path d="M428.20 334.45H429.50M428.20 330.37H429.50M428.20 328.30H429.50M428.20 326.83H429.50M428.20 325.69H429.50M428.20 324.76H429.50M428.20 323.98H429.50M428.20 323.29H429.50M428.20 322.69H429.50M428.20 318.61H429.50M428.20 316.54H429.50M428.20 315.07H429.50M428.20 313.93H429.50M428.20 313.00H429.50M428.20 312.22H429.50M428.20 311.53H429.50M428.20 310.93H429.50M428.20 306.86H429.50M428.20 304.79H429.50M428.20 303.32H429.50M428.20 302.18H429.50M428.20 301.25H429.50M428.20 300.46H429.50M428.20 299.78H429.50M428.20 299.17H429.50M428.20 295.10H429.50M428.20 293.03H429.50M428.20 291.56H429.50M428.20 290.42H429.50M428.20 289.49H429.50M428.20 288.70H429.50M428.20 288.02H429.50M428.20 287.42H429.50M428.20 283.34H429.50M428.20 281.27H429.50M428.20 279.80H429.50M428.20 278.66H429.50M428.20 277.73H429.50M428.20 276.94H429.50M428.20 276.26H429.50M428.20 275.66H429.50M428.20 271.58H429.50M429.78 334.50V335.80M428.20 269.51H429.50M434.21 334.50V335.80M428.20 268.04H429.50M437.36 334.50V335.80M428.20 266.90H429.50M439.80 334.50V335.80M428.20 265.97H429.50M441.79 334.50V335.80M428.20 265.18H429.50M443.48 334.50V335.80M428.20 264.50H429.50M444.94 334.50V335.80M428.20 263.90H429.50M446.23 334.50V335.80M428.20 259.82H429.50M454.96 334.50V335.80M428.20 257.75H429.50M459.40 334.50V335.80M428.20 256.28H429.50M462.55 334.50V335.80M428.20 255.14H429.50M464.99 334.50V335.80M428.20 254.21H429.50M466.98 334.50V335.80M428.20 253.42H429.50M468.67 334.50V335.80M428.20 252.74H429.50M470.13 334.50V335.80M428.20 252.14H429.50M471.42 334.50V335.80M428.20 248.06H429.50M480.15 334.50V335.80M484.59 334.50V335.80M487.73 334.50V335.80M490.17 334.50V335.80M492.17 334.50V335.80M493.85 334.50V335.80M495.31 334.50V335.80M496.60 334.50V335.80M505.34 334.50V335.80M509.77 334.50V335.80M512.92 334.50V335.80M515.36 334.50V335.80M517.35 334.50V335.80M519.04 334.50V335.80M520.50 334.50V335.80M521.79 334.50V335.80" stroke="#000" stroke-width="0.55" fill="none"/>
<text class="t" x="453.81" y="242.80" font-size="13.2" textLength="63.27" lengthAdjust="spacingAndGlyphs" font-family="Liberation Sans"  fill="#000">Venezuela</text>
<rect x="557.50" y="246.50" width="111.5" height="88.0" fill="none" stroke="#000" stroke-width="0.83"/>
<g fill="#d0d0d0"><circle cx="574.7" cy="340.4" r="0.55"/><circle cx="600.5" cy="340.4" r="0.55"/><circle cx="625.7" cy="340.4" r="0.55"/><circle cx="651.5" cy="340.4" r="0.55"/></g>
<circle cx="573.5" cy="257.8" r="1.45" fill="#1f77b4"/>
<rect x="572.05" y="268.35" width="2.9" height="2.9" fill="#ff7f0e"/>
<path d="M564.3 288.1H582.8" stroke="#2ca02c" stroke-width="1.55"/>
<text  x="588.83" y="260.70" font-size="9.1" textLength="19.77" lengthAdjust="spacingAndGlyphs" font-family="Liberation Sans"  fill="#000">Data</text>
<text  x="588.72" y="273.00" font-size="9.1" textLength="61.49" lengthAdjust="spacingAndGlyphs" font-family="Liberation Sans"  fill="#000">MC Simulation</text>
<text  x="589.18" y="285.80" font-size="9.1" textLength="41.67" lengthAdjust="spacingAndGlyphs" font-family="Liberation Sans"  fill="#000">Analytical</text>
<text  x="589.08" y="294.80" font-size="9.1" textLength="53.45" lengthAdjust="spacingAndGlyphs" font-family="Liberation Sans"  fill="#000">computation</text>
<text  x="20.09" y="254.95" font-size="10.9" textLength="12.66" lengthAdjust="spacingAndGlyphs" font-family="Liberation Sans"  fill="#000">10</text>
<text  x="33.17" y="251.00" font-size="7.6" textLength="4.25" lengthAdjust="spacingAndGlyphs" font-family="Liberation Sans"  fill="#000">0</text>
<text  x="14.01" y="266.71" font-size="10.9" textLength="12.66" lengthAdjust="spacingAndGlyphs" font-family="Liberation Sans"  fill="#000">10</text>
<text  x="27.22" y="262.76" font-size="7.6" textLength="5.46" lengthAdjust="spacingAndGlyphs" font-family="Liberation Sans"  fill="#000">−</text>
<text  x="33.23" y="262.76" font-size="7.6" textLength="4.06" lengthAdjust="spacingAndGlyphs" font-family="Liberation Sans"  fill="#000">1</text>
<text  x="14.01" y="278.47" font-size="10.9" textLength="12.66" lengthAdjust="spacingAndGlyphs" font-family="Liberation Sans"  fill="#000">10</text>
<text  x="27.22" y="274.52" font-size="7.6" textLength="5.46" lengthAdjust="spacingAndGlyphs" font-family="Liberation Sans"  fill="#000">−</text>
<text  x="33.15" y="274.52" font-size="7.6" textLength="4.10" lengthAdjust="spacingAndGlyphs" font-family="Liberation Sans"  fill="#000">2</text>
<text  x="14.01" y="290.23" font-size="10.9" textLength="12.66" lengthAdjust="spacingAndGlyphs" font-family="Liberation Sans"  fill="#000">10</text>
<text  x="27.22" y="286.28" font-size="7.6" textLength="5.46" lengthAdjust="spacingAndGlyphs" font-family="Liberation Sans"  fill="#000">−</text>
<text  x="33.26" y="286.28" font-size="7.6" textLength="4.08" lengthAdjust="spacingAndGlyphs" font-family="Liberation Sans"  fill="#000">3</text>
<text  x="14.01" y="301.99" font-size="10.9" textLength="12.66" lengthAdjust="spacingAndGlyphs" font-family="Liberation Sans"  fill="#000">10</text>
<text  x="27.22" y="298.04" font-size="7.6" textLength="5.46" lengthAdjust="spacingAndGlyphs" font-family="Liberation Sans"  fill="#000">−</text>
<text  x="33.17" y="298.04" font-size="7.6" textLength="4.25" lengthAdjust="spacingAndGlyphs" font-family="Liberation Sans"  fill="#000">4</text>
<text  x="14.01" y="313.75" font-size="10.9" textLength="12.66" lengthAdjust="spacingAndGlyphs" font-family="Liberation Sans"  fill="#000">10</text>
<text  x="27.22" y="309.80" font-size="7.6" textLength="5.46" lengthAdjust="spacingAndGlyphs" font-family="Liberation Sans"  fill="#000">−</text>
<text  x="33.26" y="309.80" font-size="7.6" textLength="4.01" lengthAdjust="spacingAndGlyphs" font-family="Liberation Sans"  fill="#000">5</text>
<text  x="14.01" y="325.50" font-size="10.9" textLength="12.66" lengthAdjust="spacingAndGlyphs" font-family="Liberation Sans"  fill="#000">10</text>
<text  x="27.22" y="321.55" font-size="7.6" textLength="5.46" lengthAdjust="spacingAndGlyphs" font-family="Liberation Sans"  fill="#000">−</text>
<text  x="33.09" y="321.55" font-size="7.6" textLength="4.40" lengthAdjust="spacingAndGlyphs" font-family="Liberation Sans"  fill="#000">6</text>
<text  x="14.01" y="337.26" font-size="10.9" textLength="12.66" lengthAdjust="spacingAndGlyphs" font-family="Liberation Sans"  fill="#000">10</text>
<text  x="27.22" y="333.31" font-size="7.6" textLength="5.46" lengthAdjust="spacingAndGlyphs" font-family="Liberation Sans"  fill="#000">−</text>
<text  x="33.20" y="333.31" font-size="7.6" textLength="4.16" lengthAdjust="spacingAndGlyphs" font-family="Liberation Sans"  fill="#000">7</text>
<text  x="51.80" y="349.90" font-size="10.9" textLength="12.66" lengthAdjust="spacingAndGlyphs" font-family="Liberation Sans"  fill="#000">10</text>
<text  x="65.01" y="345.95" font-size="7.6" textLength="5.46" lengthAdjust="spacingAndGlyphs" font-family="Liberation Sans"  fill="#000">−</text>
<text  x="71.02" y="345.95" font-size="7.6" textLength="4.06" lengthAdjust="spacingAndGlyphs" font-family="Liberation Sans"  fill="#000">1</text>
<text  x="80.14" y="349.90" font-size="10.9" textLength="12.66" lengthAdjust="spacingAndGlyphs" font-family="Liberation Sans"  fill="#000">10</text>
<text  x="93.22" y="345.95" font-size="7.6" textLength="4.25" lengthAdjust="spacingAndGlyphs" font-family="Liberation Sans"  fill="#000">0</text>
<text  x="105.44" y="349.90" font-size="10.9" textLength="12.66" lengthAdjust="spacingAndGlyphs" font-family="Liberation Sans"  fill="#000">10</text>
<text  x="118.58" y="345.95" font-size="7.6" textLength="4.06" lengthAdjust="spacingAndGlyphs" font-family="Liberation Sans"  fill="#000">1</text>
<text  x="130.74" y="349.90" font-size="10.9" textLength="12.66" lengthAdjust="spacingAndGlyphs" font-family="Liberation Sans"  fill="#000">10</text>
<text  x="143.80" y="345.95" font-size="7.6" textLength="4.10" lengthAdjust="spacingAndGlyphs" font-family="Liberation Sans"  fill="#000">2</text>
<text x="98.4" y="363.5" font-size="12.2" font-family="Liberation Sans" font-style="italic" textLength="6.9" lengthAdjust="spacingAndGlyphs">η</text>
<text transform="translate(8.4 299.9) rotate(-90)" font-size="11.8" font-family="Liberation Sans" textLength="19.1" lengthAdjust="spacingAndGlyphs"><tspan font-style="italic">f</tspan>(<tspan font-style="italic">η</tspan>)</text>
</g>
</svg></body></html>
